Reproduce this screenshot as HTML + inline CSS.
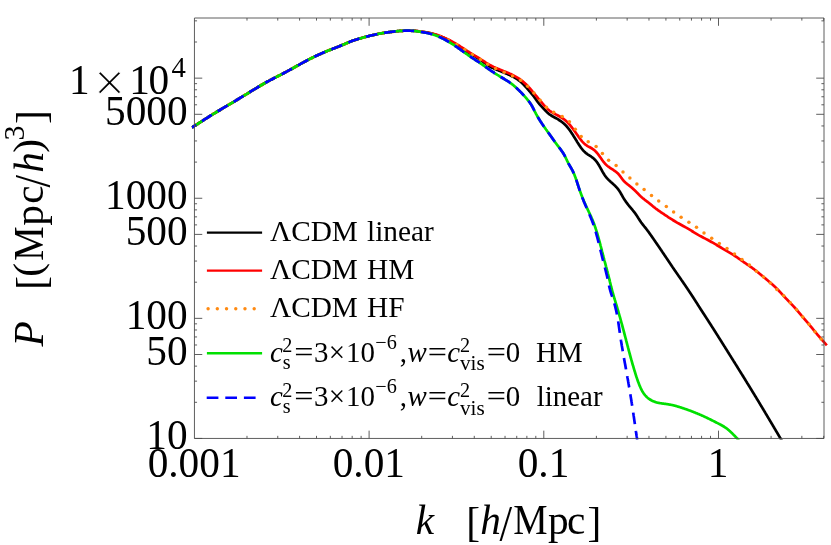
<!DOCTYPE html>
<html><head><meta charset="utf-8"><title>Power spectrum</title>
<style>
html,body{margin:0;padding:0;background:#fff;}
body{width:831px;height:545px;overflow:hidden;}
svg{display:block;font-family:"Liberation Serif",serif;will-change:transform;}
</style></head><body>
<svg width="831" height="545" viewBox="0 0 831 545">
<rect width="831" height="545" fill="#fff"/>
<defs><clipPath id="cp"><rect x="191.5" y="15" width="639.5" height="424.6"/></clipPath></defs>
<g clip-path="url(#cp)" fill="none" stroke-width="2.7" stroke-linejoin="round">
<path d="M192.00,127.50 L192.42,127.24 L192.85,126.97 L193.27,126.71 L193.70,126.44 L194.12,126.18 L194.54,125.91 L194.97,125.64 L195.39,125.37 L195.81,125.11 L196.23,124.84 L196.65,124.57 L197.08,124.30 L197.50,124.03 L197.92,123.76 L198.34,123.49 L198.76,123.22 L199.18,122.95 L199.60,122.68 L200.02,122.41 L200.44,122.14 L200.86,121.87 L201.28,121.60 L201.70,121.33 L202.12,121.05 L202.54,120.78 L202.96,120.51 L203.38,120.24 L203.80,119.97 L204.22,119.70 L204.64,119.43 L205.06,119.16 L205.49,118.89 L205.91,118.62 L206.33,118.35 L206.75,118.08 L207.17,117.81 L207.59,117.54 L208.01,117.28 L208.44,117.01 L208.86,116.74 L209.28,116.48 L209.71,116.21 L210.13,115.94 L210.55,115.68 L210.98,115.41 L211.40,115.15 L211.83,114.89 L212.25,114.63 L212.68,114.36 L213.11,114.10 L213.53,113.84 L213.96,113.58 L214.39,113.32 L214.81,113.06 L215.24,112.80 L215.67,112.54 L216.10,112.28 L216.52,112.03 L216.95,111.77 L217.38,111.51 L217.81,111.25 L218.24,111.00 L218.67,110.74 L219.10,110.49 L219.53,110.23 L219.96,109.97 L220.39,109.72 L220.82,109.46 L221.25,109.21 L221.68,108.95 L222.11,108.70 L222.54,108.44 L222.97,108.19 L223.40,107.93 L223.83,107.68 L224.26,107.43 L224.69,107.17 L225.12,106.92 L225.55,106.66 L225.98,106.41 L226.41,106.16 L226.85,105.90 L227.28,105.65 L227.71,105.39 L228.14,105.14 L228.57,104.88 L229.00,104.63 L229.43,104.38 L229.86,104.12 L230.29,103.87 L230.72,103.61 L231.15,103.36 L231.58,103.10 L232.01,102.84 L232.44,102.59 L232.87,102.33 L233.30,102.08 L233.73,101.82 L234.16,101.56 L234.58,101.31 L235.01,101.05 L235.44,100.79 L235.87,100.54 L236.30,100.28 L236.73,100.02 L237.16,99.76 L237.58,99.51 L238.01,99.25 L238.44,98.99 L238.87,98.73 L239.30,98.47 L239.73,98.21 L240.15,97.96 L240.58,97.70 L241.01,97.44 L241.44,97.18 L241.86,96.92 L242.29,96.66 L242.72,96.40 L243.15,96.14 L243.57,95.88 L244.00,95.62 L244.43,95.36 L244.85,95.10 L245.28,94.84 L245.71,94.58 L246.14,94.32 L246.56,94.06 L246.99,93.80 L247.42,93.54 L247.84,93.28 L248.27,93.02 L248.70,92.76 L249.12,92.49 L249.55,92.23 L249.97,91.97 L250.40,91.71 L250.83,91.45 L251.25,91.19 L251.68,90.93 L252.11,90.66 L252.53,90.40 L252.96,90.14 L253.39,89.88 L253.81,89.62 L254.24,89.36 L254.67,89.10 L255.09,88.84 L255.52,88.58 L255.95,88.32 L256.37,88.06 L256.80,87.80 L257.23,87.54 L257.66,87.28 L258.09,87.02 L258.52,86.77 L258.94,86.51 L259.37,86.25 L259.80,86.00 L260.23,85.74 L260.67,85.49 L261.10,85.24 L261.53,84.98 L261.96,84.73 L262.39,84.48 L262.83,84.23 L263.26,83.98 L263.69,83.74 L264.13,83.49 L264.56,83.24 L265.00,83.00 L265.44,82.76 L265.87,82.51 L266.31,82.27 L266.75,82.03 L267.19,81.79 L267.63,81.56 L268.07,81.32 L268.51,81.08 L268.95,80.85 L269.39,80.61 L269.83,80.38 L270.27,80.14 L270.72,79.91 L271.16,79.68 L271.60,79.45 L272.05,79.21 L272.49,78.98 L272.93,78.75 L273.38,78.52 L273.82,78.29 L274.27,78.06 L274.71,77.83 L275.15,77.61 L275.60,77.38 L276.04,77.15 L276.49,76.92 L276.93,76.69 L277.38,76.46 L277.82,76.24 L278.27,76.01 L278.71,75.78 L279.16,75.55 L279.60,75.32 L280.05,75.09 L280.49,74.86 L280.94,74.63 L281.38,74.40 L281.82,74.17 L282.27,73.94 L282.71,73.71 L283.15,73.48 L283.60,73.25 L284.04,73.01 L284.48,72.78 L284.92,72.55 L285.37,72.31 L285.81,72.08 L286.25,71.84 L286.69,71.60 L287.13,71.37 L287.57,71.13 L288.01,70.89 L288.44,70.65 L288.88,70.41 L289.32,70.17 L289.76,69.93 L290.20,69.69 L290.64,69.45 L291.07,69.20 L291.51,68.96 L291.95,68.72 L292.39,68.48 L292.82,68.23 L293.26,67.99 L293.70,67.75 L294.13,67.50 L294.57,67.26 L295.01,67.02 L295.44,66.77 L295.88,66.53 L296.32,66.29 L296.75,66.04 L297.19,65.80 L297.63,65.56 L298.06,65.31 L298.50,65.07 L298.94,64.83 L299.37,64.58 L299.81,64.34 L300.25,64.10 L300.69,63.86 L301.13,63.62 L301.56,63.38 L302.00,63.14 L302.44,62.90 L302.88,62.66 L303.32,62.42 L303.76,62.18 L304.20,61.94 L304.64,61.71 L305.08,61.47 L305.52,61.23 L305.96,61.00 L306.41,60.77 L306.85,60.53 L307.29,60.30 L307.73,60.07 L308.18,59.84 L308.62,59.61 L309.07,59.38 L309.51,59.15 L309.96,58.92 L310.40,58.69 L310.85,58.47 L311.30,58.24 L311.74,58.02 L312.19,57.79 L312.64,57.57 L313.09,57.35 L313.54,57.13 L313.99,56.91 L314.44,56.69 L314.89,56.47 L315.34,56.26 L315.79,56.04 L316.24,55.83 L316.69,55.61 L317.15,55.40 L317.60,55.19 L318.05,54.98 L318.51,54.77 L318.96,54.56 L319.42,54.35 L319.87,54.14 L320.33,53.94 L320.78,53.73 L321.24,53.53 L321.70,53.33 L322.16,53.13 L322.61,52.93 L323.07,52.73 L323.53,52.53 L323.99,52.33 L324.45,52.14 L324.91,51.95 L325.37,51.75 L325.84,51.56 L326.30,51.37 L326.76,51.18 L327.22,50.99 L327.69,50.81 L328.15,50.62 L328.62,50.43 L329.08,50.25 L329.55,50.07 L330.01,49.88 L330.48,49.70 L330.94,49.52 L331.41,49.34 L331.87,49.16 L332.34,48.97 L332.81,48.79 L333.27,48.61 L333.74,48.43 L334.21,48.25 L334.67,48.07 L335.14,47.89 L335.60,47.71 L336.07,47.53 L336.54,47.35 L337.00,47.17 L337.47,46.98 L337.93,46.80 L338.40,46.62 L338.86,46.43 L339.33,46.25 L339.79,46.06 L340.26,45.88 L340.72,45.69 L341.18,45.50 L341.65,45.31 L342.11,45.12 L342.57,44.93 L343.03,44.74 L343.49,44.55 L343.95,44.35 L344.41,44.15 L344.87,43.96 L345.33,43.76 L345.79,43.55 L346.25,43.35 L346.70,43.15 L347.16,42.95 L347.62,42.75 L348.08,42.55 L348.54,42.35 L349.00,42.15 L349.46,41.96 L349.92,41.77 L350.39,41.59 L350.85,41.40 L351.32,41.23 L351.79,41.05 L352.26,40.88 L352.73,40.71 L353.20,40.55 L353.67,40.39 L354.15,40.23 L354.62,40.07 L355.10,39.92 L355.57,39.77 L356.05,39.62 L356.53,39.47 L357.01,39.33 L357.49,39.19 L357.97,39.04 L358.45,38.90 L358.93,38.76 L359.41,38.62 L359.89,38.49 L360.38,38.35 L360.86,38.21 L361.34,38.08 L361.82,37.94 L362.30,37.81 L362.78,37.68 L363.27,37.54 L363.75,37.41 L364.23,37.28 L364.71,37.15 L365.20,37.02 L365.68,36.89 L366.16,36.76 L366.65,36.63 L367.13,36.51 L367.61,36.38 L368.10,36.26 L368.58,36.13 L369.07,36.01 L369.55,35.89 L370.04,35.77 L370.52,35.65 L371.01,35.53 L371.49,35.41 L371.98,35.29 L372.47,35.18 L372.95,35.06 L373.44,34.95 L373.93,34.84 L374.41,34.73 L374.90,34.62 L375.39,34.51 L375.88,34.40 L376.37,34.30 L376.86,34.20 L377.35,34.09 L377.84,33.99 L378.33,33.90 L378.82,33.80 L379.31,33.70 L379.80,33.61 L380.29,33.52 L380.78,33.43 L381.28,33.34 L381.77,33.26 L382.26,33.17 L382.75,33.09 L383.25,33.01 L383.74,32.93 L384.23,32.85 L384.73,32.77 L385.22,32.70 L385.72,32.62 L386.21,32.55 L386.71,32.47 L387.20,32.40 L387.70,32.33 L388.19,32.26 L388.69,32.19 L389.18,32.13 L389.68,32.06 L390.17,31.99 L390.67,31.93 L391.17,31.86 L391.66,31.80 L392.16,31.73 L392.66,31.67 L393.15,31.61 L393.65,31.55 L394.15,31.49 L394.64,31.43 L395.14,31.38 L395.64,31.32 L396.13,31.27 L396.63,31.22 L397.13,31.17 L397.63,31.12 L398.12,31.08 L398.62,31.03 L399.12,31.00 L399.62,30.96 L400.12,30.92 L400.62,30.89 L401.12,30.86 L401.61,30.84 L402.11,30.82 L402.61,30.80 L403.11,30.78 L403.61,30.76 L404.11,30.75 L404.61,30.74 L405.11,30.73 L405.61,30.72 L406.11,30.71 L406.61,30.71 L407.11,30.70 L407.61,30.70 L408.11,30.70 L408.61,30.70 L409.12,30.70 L409.62,30.70 L410.12,30.71 L410.62,30.71 L411.12,30.72 L411.62,30.73 L412.12,30.74 L412.62,30.76 L413.12,30.78 L413.62,30.80 L414.12,30.83 L414.61,30.86 L415.11,30.90 L415.61,30.94 L416.11,30.99 L416.60,31.04 L417.10,31.10 L417.60,31.16 L418.09,31.23 L418.59,31.30 L419.08,31.37 L419.58,31.44 L420.07,31.51 L420.57,31.58 L421.06,31.66 L421.56,31.73 L422.05,31.80 L422.55,31.88 L423.04,31.95 L423.54,32.03 L424.03,32.11 L424.52,32.19 L425.02,32.27 L425.51,32.36 L426.00,32.44 L426.49,32.53 L426.99,32.62 L427.48,32.71 L427.97,32.81 L428.46,32.91 L428.95,33.01 L429.44,33.12 L429.93,33.23 L430.41,33.34 L430.90,33.45 L431.39,33.57 L431.87,33.69 L432.36,33.82 L432.84,33.94 L433.33,34.07 L433.81,34.21 L434.29,34.35 L434.77,34.49 L435.25,34.63 L435.72,34.78 L436.20,34.93 L436.68,35.09 L437.15,35.25 L437.62,35.42 L438.09,35.58 L438.56,35.75 L439.03,35.93 L439.50,36.11 L439.97,36.29 L440.43,36.47 L440.90,36.66 L441.36,36.84 L441.82,37.04 L442.28,37.23 L442.74,37.43 L443.20,37.63 L443.66,37.83 L444.12,38.03 L444.57,38.24 L445.03,38.45 L445.48,38.66 L445.93,38.87 L446.38,39.09 L446.83,39.31 L447.28,39.53 L447.73,39.75 L448.18,39.98 L448.63,40.21 L449.07,40.44 L449.51,40.67 L449.96,40.90 L450.40,41.14 L450.84,41.38 L451.28,41.62 L451.71,41.87 L452.15,42.11 L452.59,42.36 L453.02,42.61 L453.45,42.86 L453.88,43.11 L454.31,43.37 L454.74,43.63 L455.17,43.89 L455.60,44.15 L456.02,44.41 L456.45,44.67 L456.87,44.94 L457.29,45.21 L457.72,45.48 L458.14,45.74 L458.56,46.02 L458.98,46.29 L459.40,46.56 L459.82,46.83 L460.23,47.11 L460.65,47.38 L461.07,47.66 L461.49,47.93 L461.90,48.21 L462.32,48.48 L462.74,48.76 L463.16,49.04 L463.57,49.31 L463.99,49.59 L464.41,49.86 L464.83,50.14 L465.24,50.41 L465.66,50.68 L466.08,50.96 L466.50,51.23 L466.92,51.50 L467.34,51.77 L467.76,52.04 L468.19,52.30 L468.61,52.57 L469.03,52.83 L469.46,53.10 L469.88,53.36 L470.31,53.62 L470.74,53.88 L471.17,54.13 L471.60,54.39 L472.03,54.65 L472.46,54.90 L472.89,55.16 L473.32,55.42 L473.74,55.67 L474.17,55.93 L474.60,56.18 L475.03,56.44 L475.46,56.70 L475.89,56.96 L476.31,57.22 L476.74,57.48 L477.16,57.75 L477.59,58.01 L478.01,58.28 L478.43,58.55 L478.85,58.83 L479.27,59.10 L479.68,59.38 L480.09,59.66 L480.51,59.95 L480.92,60.24 L481.32,60.53 L481.73,60.82 L482.14,61.12 L482.54,61.41 L482.95,61.71 L483.35,62.01 L483.75,62.30 L484.16,62.60 L484.56,62.90 L484.97,63.19 L485.37,63.49 L485.78,63.78 L486.19,64.07 L486.60,64.35 L487.01,64.64 L487.42,64.92 L487.83,65.20 L488.25,65.47 L488.67,65.74 L489.09,66.00 L489.52,66.26 L489.95,66.51 L490.38,66.76 L490.82,67.00 L491.26,67.24 L491.70,67.47 L492.15,67.69 L492.59,67.91 L493.04,68.13 L493.50,68.34 L493.95,68.54 L494.41,68.75 L494.87,68.95 L495.33,69.14 L495.79,69.34 L496.25,69.53 L496.72,69.72 L497.18,69.91 L497.65,70.10 L498.12,70.28 L498.58,70.47 L499.05,70.65 L499.52,70.83 L499.98,71.02 L500.45,71.20 L500.92,71.38 L501.38,71.57 L501.85,71.75 L502.31,71.94 L502.77,72.12 L503.24,72.31 L503.70,72.50 L504.16,72.69 L504.62,72.88 L505.09,73.07 L505.55,73.27 L506.01,73.46 L506.46,73.66 L506.92,73.86 L507.38,74.06 L507.84,74.26 L508.29,74.47 L508.75,74.67 L509.20,74.88 L509.66,75.10 L510.11,75.31 L510.56,75.53 L511.01,75.75 L511.47,75.97 L511.91,76.20 L512.36,76.42 L512.81,76.66 L513.25,76.89 L513.69,77.13 L514.13,77.37 L514.57,77.62 L515.01,77.87 L515.44,78.13 L515.87,78.39 L516.30,78.65 L516.72,78.92 L517.14,79.19 L517.56,79.47 L517.97,79.75 L518.38,80.04 L518.78,80.33 L519.18,80.63 L519.58,80.94 L519.97,81.25 L520.35,81.56 L520.74,81.88 L521.11,82.21 L521.48,82.54 L521.85,82.88 L522.21,83.22 L522.57,83.57 L522.93,83.92 L523.28,84.28 L523.63,84.63 L523.98,85.00 L524.32,85.36 L524.66,85.73 L525.00,86.10 L525.34,86.47 L525.67,86.84 L526.01,87.22 L526.34,87.59 L526.67,87.97 L527.00,88.35 L527.33,88.72 L527.66,89.10 L527.99,89.48 L528.32,89.85 L528.65,90.23 L528.98,90.61 L529.31,90.99 L529.64,91.37 L529.96,91.75 L530.29,92.13 L530.61,92.51 L530.94,92.89 L531.26,93.27 L531.58,93.66 L531.89,94.04 L532.21,94.43 L532.52,94.82 L532.83,95.21 L533.14,95.60 L533.45,96.00 L533.75,96.39 L534.05,96.79 L534.35,97.19 L534.64,97.60 L534.94,98.01 L535.23,98.41 L535.51,98.82 L535.80,99.24 L536.09,99.65 L536.37,100.06 L536.66,100.47 L536.95,100.88 L537.24,101.29 L537.53,101.69 L537.83,102.09 L538.13,102.49 L538.43,102.89 L538.74,103.28 L539.05,103.67 L539.37,104.05 L539.70,104.43 L540.03,104.80 L540.37,105.17 L540.71,105.54 L541.05,105.90 L541.40,106.26 L541.74,106.63 L542.09,106.99 L542.43,107.36 L542.77,107.73 L543.11,108.10 L543.45,108.48 L543.78,108.85 L544.12,109.22 L544.46,109.59 L544.80,109.96 L545.15,110.33 L545.49,110.70 L545.84,111.06 L546.19,111.42 L546.54,111.77 L546.90,112.12 L547.26,112.47 L547.62,112.80 L548.00,113.13 L548.37,113.46 L548.76,113.77 L549.14,114.08 L549.54,114.38 L549.94,114.67 L550.35,114.95 L550.77,115.22 L551.19,115.49 L551.61,115.75 L552.04,116.01 L552.47,116.26 L552.90,116.51 L553.34,116.75 L553.78,117.00 L554.22,117.24 L554.66,117.48 L555.11,117.72 L555.55,117.96 L555.99,118.20 L556.43,118.45 L556.87,118.70 L557.31,118.95 L557.74,119.20 L558.17,119.46 L558.60,119.72 L559.03,119.99 L559.45,120.26 L559.87,120.53 L560.29,120.81 L560.70,121.10 L561.11,121.39 L561.51,121.68 L561.91,121.98 L562.31,122.28 L562.70,122.59 L563.08,122.91 L563.47,123.23 L563.84,123.56 L564.21,123.89 L564.58,124.23 L564.94,124.58 L565.29,124.93 L565.64,125.29 L565.99,125.65 L566.33,126.02 L566.66,126.39 L566.99,126.76 L567.32,127.14 L567.64,127.53 L567.96,127.92 L568.27,128.31 L568.58,128.71 L568.89,129.10 L569.19,129.51 L569.49,129.91 L569.78,130.32 L570.08,130.73 L570.37,131.14 L570.65,131.55 L570.94,131.96 L571.22,132.38 L571.50,132.80 L571.77,133.21 L572.05,133.63 L572.32,134.05 L572.59,134.47 L572.86,134.89 L573.13,135.31 L573.39,135.74 L573.66,136.16 L573.92,136.58 L574.18,137.01 L574.44,137.43 L574.70,137.85 L574.97,138.28 L575.23,138.70 L575.49,139.13 L575.75,139.56 L576.01,139.98 L576.27,140.41 L576.53,140.83 L576.79,141.26 L577.05,141.69 L577.32,142.11 L577.58,142.54 L577.85,142.96 L578.12,143.39 L578.39,143.81 L578.66,144.24 L578.93,144.66 L579.21,145.08 L579.49,145.51 L579.77,145.93 L580.05,146.34 L580.34,146.76 L580.63,147.17 L580.93,147.58 L581.22,147.99 L581.53,148.39 L581.84,148.79 L582.15,149.19 L582.47,149.57 L582.79,149.96 L583.12,150.33 L583.46,150.71 L583.80,151.07 L584.15,151.43 L584.50,151.78 L584.86,152.12 L585.23,152.45 L585.61,152.78 L585.99,153.10 L586.39,153.40 L586.79,153.70 L587.19,153.99 L587.60,154.28 L588.02,154.56 L588.44,154.84 L588.86,155.11 L589.28,155.38 L589.71,155.65 L590.13,155.93 L590.55,156.20 L590.97,156.48 L591.38,156.76 L591.79,157.04 L592.20,157.33 L592.59,157.63 L592.98,157.94 L593.37,158.26 L593.74,158.58 L594.10,158.92 L594.46,159.26 L594.80,159.62 L595.14,159.98 L595.47,160.35 L595.80,160.73 L596.12,161.11 L596.43,161.51 L596.73,161.90 L597.03,162.31 L597.32,162.72 L597.61,163.14 L597.89,163.56 L598.16,163.98 L598.43,164.41 L598.70,164.84 L598.97,165.28 L599.22,165.71 L599.48,166.15 L599.74,166.59 L599.99,167.04 L600.23,167.48 L600.48,167.93 L600.73,168.37 L600.97,168.82 L601.21,169.26 L601.45,169.70 L601.70,170.15 L601.94,170.59 L602.18,171.03 L602.43,171.47 L602.67,171.91 L602.92,172.34 L603.18,172.77 L603.43,173.20 L603.69,173.63 L603.95,174.05 L604.22,174.47 L604.49,174.89 L604.77,175.30 L605.05,175.70 L605.34,176.11 L605.63,176.50 L605.94,176.90 L606.25,177.28 L606.56,177.66 L606.89,178.04 L607.22,178.41 L607.56,178.77 L607.90,179.14 L608.25,179.49 L608.60,179.85 L608.96,180.20 L609.32,180.55 L609.68,180.89 L610.05,181.23 L610.42,181.58 L610.79,181.92 L611.17,182.25 L611.54,182.59 L611.92,182.93 L612.30,183.26 L612.67,183.60 L613.05,183.94 L613.42,184.28 L613.79,184.62 L614.16,184.96 L614.53,185.30 L614.89,185.65 L615.25,185.99 L615.61,186.35 L615.96,186.70 L616.30,187.06 L616.64,187.43 L616.97,187.80 L617.30,188.17 L617.62,188.55 L617.93,188.94 L618.23,189.33 L618.53,189.73 L618.81,190.14 L619.09,190.55 L619.37,190.96 L619.64,191.38 L619.90,191.80 L620.16,192.23 L620.42,192.66 L620.67,193.09 L620.92,193.53 L621.17,193.96 L621.42,194.40 L621.66,194.84 L621.91,195.28 L622.15,195.72 L622.40,196.16 L622.64,196.59 L622.89,197.03 L623.14,197.47 L623.40,197.90 L623.66,198.33 L623.92,198.76 L624.19,199.18 L624.46,199.60 L624.73,200.02 L625.01,200.44 L625.29,200.85 L625.58,201.26 L625.86,201.67 L626.16,202.08 L626.45,202.48 L626.75,202.88 L627.05,203.28 L627.35,203.68 L627.66,204.08 L627.96,204.47 L628.27,204.86 L628.59,205.26 L628.90,205.65 L629.22,206.03 L629.53,206.42 L629.85,206.81 L630.17,207.19 L630.50,207.57 L630.82,207.96 L631.14,208.34 L631.46,208.72 L631.79,209.11 L632.11,209.49 L632.43,209.87 L632.75,210.26 L633.06,210.65 L633.38,211.03 L633.69,211.42 L634.00,211.82 L634.31,212.21 L634.62,212.60 L634.92,213.00 L635.21,213.40 L635.51,213.81 L635.79,214.22 L636.08,214.63 L636.36,215.04 L636.64,215.46 L636.91,215.87 L637.18,216.29 L637.45,216.71 L637.72,217.14 L637.99,217.56 L638.26,217.98 L638.52,218.41 L638.79,218.83 L639.06,219.25 L639.33,219.67 L639.60,220.09 L639.87,220.51 L640.15,220.93 L640.43,221.35 L640.71,221.76 L640.99,222.17 L641.28,222.58 L641.58,222.98 L641.88,223.38 L642.18,223.78 L642.48,224.17 L642.79,224.57 L643.10,224.96 L643.42,225.35 L643.73,225.74 L644.05,226.13 L644.36,226.52 L644.68,226.90 L644.99,227.29 L645.31,227.68 L645.62,228.07 L645.93,228.46 L646.24,228.85 L646.55,229.25 L646.85,229.65 L647.16,230.04 L647.46,230.44 L647.75,230.85 L648.05,231.25 L648.35,231.65 L648.64,232.06 L648.93,232.46 L649.22,232.87 L649.51,233.28 L649.80,233.69 L650.09,234.10 L650.37,234.50 L650.66,234.91 L650.95,235.32 L651.23,235.73 L651.52,236.14 L651.81,236.56 L652.09,236.97 L652.38,237.38 L652.66,237.79 L652.95,238.20 L653.23,238.61 L653.52,239.02 L653.80,239.43 L654.09,239.84 L654.37,240.25 L654.66,240.66 L654.94,241.07 L655.23,241.49 L655.51,241.90 L655.79,242.31 L656.08,242.72 L656.36,243.13 L656.65,243.54 L656.93,243.96 L657.21,244.37 L657.49,244.78 L657.78,245.19 L658.06,245.60 L658.34,246.02 L658.62,246.43 L658.91,246.84 L659.19,247.26 L659.47,247.67 L659.75,248.08 L660.03,248.50 L660.31,248.91 L660.59,249.32 L660.87,249.74 L661.16,250.15 L661.44,250.56 L661.72,250.98 L662.00,251.39 L662.27,251.81 L662.55,252.22 L662.83,252.64 L663.11,253.05 L663.39,253.47 L663.67,253.88 L663.95,254.30 L664.23,254.71 L664.51,255.13 L664.78,255.54 L665.06,255.96 L665.34,256.37 L665.62,256.79 L665.90,257.20 L666.17,257.62 L666.45,258.04 L666.73,258.45 L667.01,258.87 L667.29,259.28 L667.57,259.70 L667.84,260.11 L668.12,260.53 L668.40,260.94 L668.68,261.36 L668.96,261.77 L669.24,262.19 L669.51,262.61 L669.79,263.02 L670.07,263.43 L670.35,263.85 L670.63,264.26 L670.91,264.68 L671.19,265.09 L671.47,265.51 L671.75,265.92 L672.03,266.33 L672.31,266.75 L672.60,267.16 L672.88,267.57 L673.16,267.99 L673.44,268.40 L673.72,268.81 L674.01,269.22 L674.29,269.64 L674.57,270.05 L674.86,270.46 L675.14,270.87 L675.43,271.28 L675.71,271.69 L675.99,272.11 L676.28,272.52 L676.56,272.93 L676.85,273.34 L677.13,273.75 L677.42,274.16 L677.70,274.57 L677.99,274.98 L678.27,275.39 L678.56,275.80 L678.84,276.22 L679.13,276.63 L679.41,277.04 L679.70,277.45 L679.98,277.86 L680.27,278.27 L680.55,278.68 L680.84,279.09 L681.12,279.50 L681.40,279.92 L681.69,280.33 L681.97,280.74 L682.26,281.15 L682.54,281.56 L682.82,281.97 L683.11,282.39 L683.39,282.80 L683.67,283.21 L683.96,283.62 L684.24,284.03 L684.52,284.45 L684.80,284.86 L685.09,285.27 L685.37,285.69 L685.65,286.10 L685.93,286.51 L686.21,286.93 L686.49,287.34 L686.77,287.75 L687.05,288.17 L687.33,288.58 L687.61,289.00 L687.89,289.41 L688.17,289.83 L688.45,290.24 L688.73,290.66 L689.01,291.07 L689.28,291.49 L689.56,291.90 L689.84,292.32 L690.11,292.74 L690.39,293.16 L690.66,293.57 L690.94,293.99 L691.21,294.41 L691.49,294.83 L691.76,295.25 L692.03,295.66 L692.31,296.08 L692.58,296.50 L692.85,296.92 L693.12,297.34 L693.39,297.76 L693.66,298.18 L693.93,298.60 L694.20,299.02 L694.47,299.44 L694.74,299.87 L695.01,300.29 L695.28,300.71 L695.55,301.13 L695.82,301.55 L696.09,301.97 L696.36,302.39 L696.63,302.82 L696.90,303.24 L697.16,303.66 L697.43,304.08 L697.70,304.50 L697.97,304.92 L698.24,305.35 L698.51,305.77 L698.78,306.19 L699.05,306.61 L699.32,307.03 L699.58,307.45 L699.85,307.87 L700.12,308.29 L700.39,308.71 L700.67,309.14 L700.94,309.56 L701.21,309.98 L701.48,310.40 L701.75,310.82 L702.02,311.24 L702.29,311.66 L702.56,312.08 L702.84,312.50 L703.11,312.92 L703.38,313.33 L703.65,313.75 L703.92,314.17 L704.20,314.59 L704.47,315.01 L704.74,315.43 L705.01,315.85 L705.28,316.27 L705.56,316.69 L705.83,317.11 L706.10,317.53 L706.37,317.95 L706.64,318.37 L706.92,318.79 L707.19,319.21 L707.46,319.63 L707.73,320.05 L708.00,320.47 L708.27,320.89 L708.54,321.31 L708.81,321.73 L709.09,322.15 L709.36,322.57 L709.63,322.99 L709.90,323.41 L710.17,323.83 L710.44,324.25 L710.71,324.67 L710.97,325.10 L711.24,325.52 L711.51,325.94 L711.78,326.36 L712.05,326.78 L712.32,327.20 L712.59,327.62 L712.86,328.05 L713.13,328.47 L713.39,328.89 L713.66,329.31 L713.93,329.73 L714.20,330.15 L714.47,330.58 L714.74,331.00 L715.00,331.42 L715.27,331.84 L715.54,332.27 L715.81,332.69 L716.07,333.11 L716.34,333.53 L716.61,333.96 L716.87,334.38 L717.14,334.80 L717.41,335.22 L717.68,335.65 L717.94,336.07 L718.21,336.49 L718.48,336.92 L718.74,337.34 L719.01,337.76 L719.28,338.19 L719.54,338.61 L719.81,339.03 L720.07,339.45 L720.34,339.88 L720.61,340.30 L720.87,340.72 L721.14,341.15 L721.40,341.57 L721.67,341.99 L721.94,342.42 L722.20,342.84 L722.47,343.27 L722.73,343.69 L723.00,344.11 L723.27,344.54 L723.53,344.96 L723.80,345.38 L724.06,345.81 L724.33,346.23 L724.59,346.65 L724.86,347.08 L725.13,347.50 L725.39,347.92 L725.66,348.35 L725.92,348.77 L726.19,349.20 L726.45,349.62 L726.72,350.04 L726.99,350.47 L727.25,350.89 L727.52,351.31 L727.78,351.74 L728.05,352.16 L728.31,352.58 L728.58,353.01 L728.84,353.43 L729.11,353.86 L729.37,354.28 L729.64,354.70 L729.90,355.13 L730.17,355.55 L730.44,355.98 L730.70,356.40 L730.97,356.82 L731.23,357.25 L731.50,357.67 L731.76,358.09 L732.03,358.52 L732.29,358.94 L732.56,359.37 L732.82,359.79 L733.09,360.21 L733.35,360.64 L733.62,361.06 L733.88,361.49 L734.15,361.91 L734.41,362.33 L734.68,362.76 L734.94,363.18 L735.21,363.61 L735.47,364.03 L735.73,364.46 L736.00,364.88 L736.26,365.30 L736.53,365.73 L736.79,366.15 L737.06,366.58 L737.32,367.00 L737.59,367.43 L737.85,367.85 L738.11,368.28 L738.38,368.70 L738.64,369.12 L738.91,369.55 L739.17,369.97 L739.43,370.40 L739.70,370.82 L739.96,371.25 L740.23,371.67 L740.49,372.10 L740.75,372.52 L741.02,372.95 L741.28,373.37 L741.54,373.80 L741.81,374.22 L742.07,374.65 L742.33,375.07 L742.60,375.50 L742.86,375.92 L743.12,376.35 L743.39,376.77 L743.65,377.20 L743.91,377.62 L744.18,378.05 L744.44,378.47 L744.70,378.90 L744.96,379.32 L745.23,379.75 L745.49,380.18 L745.75,380.60 L746.01,381.03 L746.28,381.45 L746.54,381.88 L746.80,382.30 L747.06,382.73 L747.33,383.15 L747.59,383.58 L747.85,384.01 L748.11,384.43 L748.37,384.86 L748.63,385.28 L748.90,385.71 L749.16,386.14 L749.42,386.56 L749.68,386.99 L749.94,387.42 L750.20,387.84 L750.46,388.27 L750.72,388.69 L750.99,389.12 L751.25,389.55 L751.51,389.97 L751.77,390.40 L752.03,390.83 L752.29,391.25 L752.55,391.68 L752.81,392.11 L753.07,392.54 L753.33,392.96 L753.59,393.39 L753.85,393.82 L754.11,394.24 L754.37,394.67 L754.63,395.10 L754.89,395.53 L755.15,395.95 L755.41,396.38 L755.67,396.81 L755.93,397.24 L756.19,397.66 L756.45,398.09 L756.70,398.52 L756.96,398.95 L757.22,399.37 L757.48,399.80 L757.74,400.23 L758.00,400.66 L758.26,401.08 L758.52,401.51 L758.77,401.94 L759.03,402.37 L759.29,402.80 L759.55,403.23 L759.81,403.65 L760.06,404.08 L760.32,404.51 L760.58,404.94 L760.84,405.37 L761.10,405.80 L761.35,406.22 L761.61,406.65 L761.87,407.08 L762.13,407.51 L762.38,407.94 L762.64,408.37 L762.90,408.80 L763.16,409.22 L763.41,409.65 L763.67,410.08 L763.93,410.51 L764.18,410.94 L764.44,411.37 L764.70,411.80 L764.95,412.23 L765.21,412.66 L765.47,413.09 L765.72,413.52 L765.98,413.94 L766.24,414.37 L766.49,414.80 L766.75,415.23 L767.00,415.66 L767.26,416.09 L767.52,416.52 L767.77,416.95 L768.03,417.38 L768.28,417.81 L768.54,418.24 L768.80,418.67 L769.05,419.10 L769.31,419.53 L769.56,419.96 L769.82,420.39 L770.07,420.82 L770.33,421.25 L770.58,421.68 L770.84,422.11 L771.10,422.54 L771.35,422.97 L771.61,423.40 L771.86,423.83 L772.12,424.26 L772.37,424.69 L772.63,425.12 L772.88,425.55 L773.14,425.98 L773.39,426.41 L773.65,426.84 L773.90,427.27 L774.15,427.70 L774.41,428.13 L774.66,428.56 L774.92,428.99 L775.17,429.42 L775.43,429.85 L775.68,430.28 L775.94,430.71 L776.19,431.14 L776.44,431.57 L776.70,432.00 L776.95,432.43 L777.21,432.86 L777.46,433.29 L777.72,433.73 L777.97,434.16 L778.22,434.59 L778.48,435.02 L778.73,435.45 L778.99,435.88 L779.24,436.31 L779.49,436.74 L779.75,437.17 L780.00,437.60 L780.25,438.03 L780.51,438.46 L780.76,438.89 L781.02,439.33 L781.27,439.76 L781.52,440.19 L781.78,440.62 L782.03,441.05 L782.28,441.48 L782.54,441.91 L782.79,442.34 L783.00,442.70" stroke="#000"/>
<path d="M192.00,127.50 L192.42,127.24 L192.85,126.97 L193.27,126.71 L193.70,126.44 L194.12,126.18 L194.54,125.91 L194.97,125.64 L195.39,125.37 L195.81,125.11 L196.23,124.84 L196.65,124.57 L197.08,124.30 L197.50,124.03 L197.92,123.76 L198.34,123.49 L198.76,123.22 L199.18,122.95 L199.60,122.68 L200.02,122.41 L200.44,122.14 L200.86,121.87 L201.28,121.60 L201.70,121.33 L202.12,121.05 L202.54,120.78 L202.96,120.51 L203.38,120.24 L203.80,119.97 L204.22,119.70 L204.64,119.43 L205.06,119.16 L205.49,118.89 L205.91,118.62 L206.33,118.35 L206.75,118.08 L207.17,117.81 L207.59,117.54 L208.01,117.28 L208.44,117.01 L208.86,116.74 L209.28,116.48 L209.71,116.21 L210.13,115.94 L210.55,115.68 L210.98,115.41 L211.40,115.15 L211.83,114.89 L212.25,114.63 L212.68,114.36 L213.11,114.10 L213.53,113.84 L213.96,113.58 L214.39,113.32 L214.81,113.06 L215.24,112.80 L215.67,112.54 L216.10,112.28 L216.52,112.03 L216.95,111.77 L217.38,111.51 L217.81,111.25 L218.24,111.00 L218.67,110.74 L219.10,110.49 L219.53,110.23 L219.96,109.97 L220.39,109.72 L220.82,109.46 L221.25,109.21 L221.68,108.95 L222.11,108.70 L222.54,108.44 L222.97,108.19 L223.40,107.93 L223.83,107.68 L224.26,107.43 L224.69,107.17 L225.12,106.92 L225.55,106.66 L225.98,106.41 L226.41,106.16 L226.85,105.90 L227.28,105.65 L227.71,105.39 L228.14,105.14 L228.57,104.88 L229.00,104.63 L229.43,104.38 L229.86,104.12 L230.29,103.87 L230.72,103.61 L231.15,103.36 L231.58,103.10 L232.01,102.84 L232.44,102.59 L232.87,102.33 L233.30,102.08 L233.73,101.82 L234.16,101.56 L234.58,101.31 L235.01,101.05 L235.44,100.79 L235.87,100.54 L236.30,100.28 L236.73,100.02 L237.16,99.76 L237.58,99.51 L238.01,99.25 L238.44,98.99 L238.87,98.73 L239.30,98.47 L239.73,98.21 L240.15,97.96 L240.58,97.70 L241.01,97.44 L241.44,97.18 L241.86,96.92 L242.29,96.66 L242.72,96.40 L243.15,96.14 L243.57,95.88 L244.00,95.62 L244.43,95.36 L244.85,95.10 L245.28,94.84 L245.71,94.58 L246.14,94.32 L246.56,94.06 L246.99,93.80 L247.42,93.54 L247.84,93.28 L248.27,93.02 L248.70,92.76 L249.12,92.49 L249.55,92.23 L249.97,91.97 L250.40,91.71 L250.83,91.45 L251.25,91.19 L251.68,90.93 L252.11,90.66 L252.53,90.40 L252.96,90.14 L253.39,89.88 L253.81,89.62 L254.24,89.36 L254.67,89.10 L255.09,88.84 L255.52,88.58 L255.95,88.32 L256.37,88.06 L256.80,87.80 L257.23,87.54 L257.66,87.28 L258.09,87.02 L258.52,86.77 L258.94,86.51 L259.37,86.25 L259.80,86.00 L260.23,85.74 L260.67,85.49 L261.10,85.24 L261.53,84.98 L261.96,84.73 L262.39,84.48 L262.83,84.23 L263.26,83.98 L263.69,83.74 L264.13,83.49 L264.56,83.24 L265.00,83.00 L265.44,82.76 L265.87,82.51 L266.31,82.27 L266.75,82.03 L267.19,81.79 L267.63,81.56 L268.07,81.32 L268.51,81.08 L268.95,80.85 L269.39,80.61 L269.83,80.38 L270.27,80.14 L270.72,79.91 L271.16,79.68 L271.60,79.45 L272.05,79.21 L272.49,78.98 L272.93,78.75 L273.38,78.52 L273.82,78.29 L274.27,78.06 L274.71,77.83 L275.15,77.61 L275.60,77.38 L276.04,77.15 L276.49,76.92 L276.93,76.69 L277.38,76.46 L277.82,76.24 L278.27,76.01 L278.71,75.78 L279.16,75.55 L279.60,75.32 L280.05,75.09 L280.49,74.86 L280.94,74.63 L281.38,74.40 L281.82,74.17 L282.27,73.94 L282.71,73.71 L283.15,73.48 L283.60,73.25 L284.04,73.01 L284.48,72.78 L284.92,72.55 L285.37,72.31 L285.81,72.08 L286.25,71.84 L286.69,71.60 L287.13,71.37 L287.57,71.13 L288.01,70.89 L288.44,70.65 L288.88,70.41 L289.32,70.17 L289.76,69.93 L290.20,69.69 L290.64,69.45 L291.07,69.20 L291.51,68.96 L291.95,68.72 L292.39,68.48 L292.82,68.23 L293.26,67.99 L293.70,67.75 L294.13,67.50 L294.57,67.26 L295.01,67.02 L295.44,66.77 L295.88,66.53 L296.32,66.29 L296.75,66.04 L297.19,65.80 L297.63,65.56 L298.06,65.31 L298.50,65.07 L298.94,64.83 L299.37,64.58 L299.81,64.34 L300.25,64.10 L300.69,63.86 L301.13,63.62 L301.56,63.38 L302.00,63.14 L302.44,62.90 L302.88,62.66 L303.32,62.42 L303.76,62.18 L304.20,61.94 L304.64,61.71 L305.08,61.47 L305.52,61.23 L305.96,61.00 L306.41,60.77 L306.85,60.53 L307.29,60.30 L307.73,60.07 L308.18,59.84 L308.62,59.61 L309.07,59.38 L309.51,59.15 L309.96,58.92 L310.40,58.69 L310.85,58.47 L311.30,58.24 L311.74,58.02 L312.19,57.79 L312.64,57.57 L313.09,57.35 L313.54,57.13 L313.99,56.91 L314.44,56.69 L314.89,56.47 L315.34,56.26 L315.79,56.04 L316.24,55.83 L316.69,55.61 L317.15,55.40 L317.60,55.19 L318.05,54.98 L318.51,54.77 L318.96,54.56 L319.42,54.35 L319.87,54.14 L320.33,53.94 L320.78,53.73 L321.24,53.53 L321.70,53.33 L322.16,53.13 L322.61,52.93 L323.07,52.73 L323.53,52.53 L323.99,52.33 L324.45,52.14 L324.91,51.95 L325.37,51.75 L325.84,51.56 L326.30,51.37 L326.76,51.18 L327.22,50.99 L327.69,50.81 L328.15,50.62 L328.62,50.43 L329.08,50.25 L329.55,50.07 L330.01,49.88 L330.48,49.70 L330.94,49.52 L331.41,49.34 L331.87,49.16 L332.34,48.97 L332.81,48.79 L333.27,48.61 L333.74,48.43 L334.21,48.25 L334.67,48.07 L335.14,47.89 L335.60,47.71 L336.07,47.53 L336.54,47.35 L337.00,47.17 L337.47,46.98 L337.93,46.80 L338.40,46.62 L338.86,46.43 L339.33,46.25 L339.79,46.06 L340.26,45.88 L340.72,45.69 L341.18,45.50 L341.65,45.31 L342.11,45.12 L342.57,44.93 L343.03,44.74 L343.49,44.55 L343.95,44.35 L344.41,44.15 L344.87,43.96 L345.33,43.76 L345.79,43.55 L346.25,43.35 L346.70,43.15 L347.16,42.95 L347.62,42.75 L348.08,42.55 L348.54,42.35 L349.00,42.15 L349.46,41.96 L349.92,41.77 L350.39,41.59 L350.85,41.40 L351.32,41.23 L351.79,41.05 L352.26,40.88 L352.73,40.71 L353.20,40.55 L353.67,40.39 L354.15,40.23 L354.62,40.07 L355.10,39.92 L355.57,39.77 L356.05,39.62 L356.53,39.47 L357.01,39.33 L357.49,39.19 L357.97,39.04 L358.45,38.90 L358.93,38.76 L359.41,38.62 L359.89,38.49 L360.38,38.35 L360.86,38.21 L361.34,38.08 L361.82,37.94 L362.30,37.81 L362.78,37.68 L363.27,37.54 L363.75,37.41 L364.23,37.28 L364.71,37.15 L365.20,37.02 L365.68,36.89 L366.16,36.76 L366.65,36.63 L367.13,36.51 L367.61,36.38 L368.10,36.26 L368.58,36.13 L369.07,36.01 L369.55,35.89 L370.04,35.77 L370.52,35.65 L371.01,35.53 L371.49,35.41 L371.98,35.29 L372.47,35.18 L372.95,35.06 L373.44,34.95 L373.93,34.84 L374.41,34.73 L374.90,34.62 L375.39,34.51 L375.88,34.40 L376.37,34.30 L376.86,34.20 L377.35,34.09 L377.84,33.99 L378.33,33.90 L378.82,33.80 L379.31,33.70 L379.80,33.61 L380.29,33.52 L380.78,33.43 L381.28,33.34 L381.77,33.26 L382.26,33.17 L382.75,33.09 L383.25,33.01 L383.74,32.93 L384.23,32.85 L384.73,32.77 L385.22,32.70 L385.72,32.62 L386.21,32.55 L386.71,32.48 L387.20,32.40 L387.70,32.33 L388.19,32.26 L388.69,32.20 L389.18,32.13 L389.68,32.06 L390.17,31.99 L390.67,31.93 L391.17,31.86 L391.66,31.80 L392.16,31.73 L392.66,31.67 L393.15,31.61 L393.65,31.55 L394.15,31.49 L394.64,31.43 L395.14,31.37 L395.64,31.32 L396.13,31.27 L396.63,31.22 L397.13,31.17 L397.63,31.12 L398.12,31.08 L398.62,31.03 L399.12,30.99 L399.62,30.96 L400.12,30.92 L400.62,30.89 L401.12,30.87 L401.61,30.84 L402.11,30.82 L402.61,30.80 L403.11,30.78 L403.61,30.77 L404.11,30.75 L404.61,30.74 L405.11,30.73 L405.61,30.72 L406.11,30.72 L406.61,30.71 L407.11,30.71 L407.61,30.70 L408.11,30.70 L408.61,30.70 L409.12,30.70 L409.62,30.70 L410.12,30.70 L410.62,30.70 L411.12,30.71 L411.62,30.71 L412.12,30.72 L412.62,30.74 L413.12,30.75 L413.62,30.77 L414.12,30.79 L414.62,30.82 L415.11,30.85 L415.61,30.89 L416.11,30.94 L416.61,30.98 L417.10,31.04 L417.60,31.09 L418.10,31.15 L418.59,31.22 L419.09,31.28 L419.59,31.35 L420.08,31.41 L420.58,31.48 L421.07,31.54 L421.57,31.61 L422.06,31.68 L422.56,31.75 L423.06,31.82 L423.55,31.89 L424.04,31.96 L424.54,32.03 L425.03,32.11 L425.53,32.19 L426.02,32.26 L426.51,32.35 L427.01,32.43 L427.50,32.52 L427.99,32.61 L428.48,32.70 L428.98,32.80 L429.47,32.89 L429.96,33.00 L430.45,33.10 L430.94,33.21 L431.42,33.32 L431.91,33.44 L432.40,33.56 L432.88,33.68 L433.37,33.81 L433.85,33.94 L434.33,34.07 L434.81,34.21 L435.29,34.35 L435.77,34.50 L436.25,34.65 L436.72,34.81 L437.20,34.97 L437.67,35.13 L438.14,35.30 L438.61,35.47 L439.08,35.65 L439.54,35.82 L440.01,36.00 L440.48,36.19 L440.94,36.37 L441.41,36.56 L441.87,36.74 L442.33,36.93 L442.79,37.13 L443.26,37.32 L443.72,37.52 L444.18,37.72 L444.64,37.92 L445.09,38.12 L445.55,38.32 L446.01,38.53 L446.46,38.74 L446.92,38.95 L447.37,39.16 L447.82,39.38 L448.27,39.59 L448.72,39.81 L449.17,40.03 L449.62,40.26 L450.07,40.48 L450.51,40.71 L450.96,40.94 L451.40,41.17 L451.84,41.41 L452.28,41.65 L452.72,41.89 L453.16,42.13 L453.60,42.37 L454.03,42.62 L454.47,42.86 L454.90,43.12 L455.33,43.37 L455.76,43.62 L456.19,43.88 L456.62,44.14 L457.04,44.40 L457.47,44.66 L457.89,44.93 L458.32,45.19 L458.74,45.46 L459.16,45.73 L459.58,45.99 L460.00,46.27 L460.42,46.54 L460.84,46.81 L461.26,47.08 L461.68,47.35 L462.10,47.63 L462.52,47.90 L462.94,48.18 L463.35,48.45 L463.77,48.73 L464.19,49.00 L464.61,49.28 L465.03,49.55 L465.44,49.82 L465.86,50.10 L466.28,50.37 L466.70,50.64 L467.12,50.92 L467.54,51.19 L467.96,51.46 L468.39,51.72 L468.81,51.99 L469.23,52.26 L469.66,52.52 L470.08,52.78 L470.51,53.05 L470.93,53.31 L471.36,53.57 L471.79,53.83 L472.22,54.08 L472.64,54.34 L473.07,54.60 L473.50,54.85 L473.93,55.11 L474.36,55.37 L474.79,55.62 L475.22,55.88 L475.65,56.14 L476.08,56.39 L476.51,56.65 L476.93,56.91 L477.36,57.17 L477.79,57.43 L478.22,57.69 L478.64,57.95 L479.07,58.22 L479.49,58.48 L479.91,58.75 L480.34,59.01 L480.76,59.28 L481.18,59.55 L481.60,59.83 L482.02,60.10 L482.44,60.37 L482.86,60.64 L483.28,60.92 L483.70,61.19 L484.12,61.46 L484.54,61.73 L484.96,62.00 L485.38,62.27 L485.80,62.54 L486.23,62.81 L486.65,63.07 L487.08,63.34 L487.50,63.60 L487.93,63.86 L488.36,64.11 L488.79,64.36 L489.22,64.61 L489.66,64.86 L490.10,65.10 L490.54,65.34 L490.98,65.57 L491.42,65.80 L491.87,66.02 L492.31,66.25 L492.76,66.47 L493.21,66.68 L493.66,66.90 L494.12,67.11 L494.57,67.32 L495.03,67.52 L495.49,67.73 L495.94,67.93 L496.40,68.13 L496.86,68.32 L497.33,68.52 L497.79,68.71 L498.25,68.90 L498.71,69.09 L499.18,69.28 L499.64,69.47 L500.10,69.66 L500.57,69.85 L501.03,70.04 L501.50,70.22 L501.96,70.41 L502.43,70.59 L502.89,70.78 L503.35,70.97 L503.82,71.15 L504.28,71.34 L504.74,71.53 L505.21,71.72 L505.67,71.91 L506.13,72.10 L506.59,72.29 L507.05,72.48 L507.52,72.68 L507.98,72.87 L508.43,73.07 L508.89,73.27 L509.35,73.47 L509.81,73.68 L510.26,73.88 L510.72,74.09 L511.17,74.30 L511.62,74.52 L512.08,74.74 L512.53,74.96 L512.97,75.18 L513.42,75.41 L513.87,75.64 L514.31,75.87 L514.75,76.10 L515.19,76.34 L515.63,76.59 L516.07,76.83 L516.50,77.08 L516.93,77.34 L517.36,77.60 L517.79,77.86 L518.21,78.12 L518.63,78.40 L519.05,78.67 L519.47,78.95 L519.88,79.23 L520.29,79.52 L520.69,79.81 L521.10,80.11 L521.50,80.41 L521.89,80.72 L522.28,81.03 L522.67,81.34 L523.06,81.66 L523.44,81.98 L523.83,82.31 L524.20,82.64 L524.58,82.97 L524.95,83.31 L525.31,83.65 L525.68,83.99 L526.04,84.34 L526.40,84.69 L526.75,85.04 L527.10,85.40 L527.45,85.76 L527.80,86.12 L528.14,86.48 L528.48,86.85 L528.82,87.22 L529.15,87.59 L529.49,87.96 L529.82,88.34 L530.14,88.71 L530.47,89.09 L530.80,89.47 L531.12,89.85 L531.44,90.23 L531.77,90.62 L532.09,91.00 L532.41,91.38 L532.73,91.77 L533.05,92.15 L533.37,92.54 L533.69,92.92 L534.01,93.31 L534.33,93.69 L534.65,94.08 L534.97,94.46 L535.29,94.84 L535.61,95.23 L535.94,95.61 L536.26,95.99 L536.58,96.37 L536.91,96.75 L537.23,97.13 L537.55,97.51 L537.88,97.89 L538.20,98.28 L538.53,98.66 L538.85,99.04 L539.17,99.42 L539.49,99.80 L539.82,100.18 L540.14,100.57 L540.46,100.95 L540.78,101.33 L541.10,101.72 L541.42,102.10 L541.73,102.49 L542.05,102.87 L542.37,103.25 L542.69,103.64 L543.01,104.02 L543.34,104.40 L543.66,104.79 L543.99,105.17 L544.31,105.55 L544.64,105.93 L544.98,106.30 L545.31,106.68 L545.65,107.05 L545.99,107.42 L546.34,107.78 L546.69,108.14 L547.04,108.50 L547.40,108.85 L547.76,109.19 L548.13,109.52 L548.51,109.85 L548.89,110.17 L549.28,110.48 L549.67,110.79 L550.07,111.08 L550.48,111.36 L550.90,111.64 L551.31,111.91 L551.74,112.18 L552.16,112.44 L552.59,112.69 L553.03,112.94 L553.47,113.18 L553.91,113.43 L554.35,113.66 L554.79,113.90 L555.24,114.14 L555.68,114.37 L556.13,114.60 L556.58,114.84 L557.02,115.07 L557.47,115.30 L557.91,115.54 L558.36,115.78 L558.80,116.02 L559.24,116.26 L559.67,116.51 L560.11,116.76 L560.54,117.01 L560.97,117.26 L561.40,117.52 L561.82,117.79 L562.24,118.06 L562.65,118.34 L563.06,118.62 L563.47,118.91 L563.87,119.20 L564.27,119.51 L564.66,119.82 L565.05,120.13 L565.43,120.45 L565.80,120.78 L566.18,121.12 L566.54,121.46 L566.91,121.80 L567.26,122.15 L567.62,122.51 L567.97,122.87 L568.31,123.23 L568.66,123.60 L569.00,123.97 L569.33,124.35 L569.66,124.73 L569.99,125.11 L570.31,125.49 L570.63,125.88 L570.95,126.27 L571.27,126.66 L571.58,127.05 L571.89,127.44 L572.19,127.84 L572.50,128.23 L572.80,128.63 L573.10,129.03 L573.39,129.43 L573.69,129.83 L573.98,130.23 L574.28,130.64 L574.57,131.04 L574.86,131.45 L575.15,131.85 L575.43,132.26 L575.72,132.67 L576.01,133.08 L576.30,133.48 L576.58,133.89 L576.87,134.30 L577.16,134.71 L577.45,135.12 L577.74,135.54 L578.03,135.95 L578.32,136.36 L578.61,136.77 L578.90,137.18 L579.20,137.59 L579.49,138.01 L579.79,138.41 L580.09,138.82 L580.40,139.23 L580.70,139.63 L581.02,140.03 L581.33,140.42 L581.65,140.81 L581.97,141.20 L582.30,141.58 L582.64,141.95 L582.98,142.32 L583.33,142.68 L583.68,143.04 L584.04,143.38 L584.41,143.72 L584.78,144.04 L585.16,144.36 L585.55,144.67 L585.95,144.96 L586.36,145.25 L586.77,145.53 L587.20,145.79 L587.62,146.05 L588.06,146.30 L588.49,146.55 L588.93,146.80 L589.37,147.04 L589.81,147.28 L590.25,147.52 L590.69,147.77 L591.13,148.02 L591.56,148.27 L591.99,148.53 L592.41,148.79 L592.83,149.07 L593.23,149.35 L593.63,149.65 L594.02,149.95 L594.40,150.27 L594.77,150.60 L595.14,150.93 L595.49,151.28 L595.84,151.63 L596.19,152.00 L596.53,152.36 L596.86,152.74 L597.18,153.12 L597.50,153.51 L597.82,153.91 L598.13,154.30 L598.44,154.71 L598.74,155.11 L599.04,155.52 L599.34,155.94 L599.63,156.35 L599.93,156.77 L600.22,157.18 L600.51,157.60 L600.80,158.02 L601.09,158.44 L601.37,158.85 L601.66,159.27 L601.95,159.68 L602.25,160.09 L602.54,160.50 L602.84,160.90 L603.14,161.31 L603.44,161.70 L603.75,162.09 L604.06,162.48 L604.38,162.86 L604.70,163.24 L605.04,163.61 L605.37,163.97 L605.72,164.32 L606.07,164.67 L606.43,165.01 L606.80,165.34 L607.18,165.66 L607.56,165.98 L607.95,166.29 L608.35,166.59 L608.75,166.89 L609.15,167.19 L609.56,167.48 L609.98,167.76 L610.39,168.04 L610.81,168.32 L611.24,168.60 L611.66,168.88 L612.08,169.15 L612.51,169.43 L612.93,169.70 L613.36,169.98 L613.78,170.26 L614.20,170.54 L614.61,170.82 L615.02,171.11 L615.43,171.41 L615.83,171.71 L616.22,172.01 L616.61,172.32 L616.99,172.65 L617.36,172.98 L617.72,173.32 L618.07,173.67 L618.40,174.03 L618.73,174.40 L619.06,174.78 L619.37,175.17 L619.68,175.56 L619.98,175.96 L620.28,176.36 L620.58,176.76 L620.88,177.17 L621.17,177.58 L621.47,177.98 L621.77,178.39 L622.07,178.79 L622.37,179.19 L622.68,179.59 L622.99,179.98 L623.31,180.36 L623.64,180.74 L623.98,181.10 L624.33,181.46 L624.68,181.81 L625.04,182.15 L625.41,182.49 L625.79,182.82 L626.17,183.15 L626.55,183.47 L626.94,183.79 L627.33,184.10 L627.72,184.42 L628.11,184.73 L628.51,185.04 L628.90,185.35 L629.30,185.66 L629.69,185.97 L630.08,186.29 L630.47,186.60 L630.86,186.92 L631.24,187.24 L631.62,187.57 L632.00,187.89 L632.38,188.22 L632.76,188.55 L633.13,188.88 L633.50,189.21 L633.87,189.55 L634.24,189.89 L634.60,190.23 L634.96,190.58 L635.32,190.93 L635.68,191.28 L636.03,191.63 L636.38,191.99 L636.73,192.34 L637.08,192.70 L637.43,193.06 L637.78,193.42 L638.13,193.78 L638.48,194.14 L638.83,194.50 L639.18,194.85 L639.53,195.21 L639.89,195.56 L640.24,195.91 L640.60,196.25 L640.97,196.60 L641.34,196.93 L641.71,197.27 L642.08,197.59 L642.46,197.92 L642.85,198.24 L643.23,198.55 L643.62,198.87 L644.01,199.18 L644.41,199.49 L644.80,199.80 L645.20,200.10 L645.59,200.41 L645.99,200.71 L646.39,201.02 L646.79,201.32 L647.18,201.62 L647.58,201.93 L647.98,202.24 L648.37,202.54 L648.77,202.85 L649.16,203.16 L649.55,203.48 L649.94,203.79 L650.33,204.11 L650.71,204.42 L651.10,204.74 L651.49,205.06 L651.87,205.38 L652.26,205.70 L652.64,206.02 L653.03,206.33 L653.42,206.65 L653.80,206.97 L654.19,207.28 L654.58,207.59 L654.97,207.90 L655.37,208.21 L655.76,208.52 L656.16,208.82 L656.56,209.12 L656.96,209.42 L657.36,209.71 L657.77,210.01 L658.17,210.30 L658.58,210.59 L658.99,210.87 L659.40,211.16 L659.81,211.44 L660.22,211.73 L660.64,212.01 L661.05,212.29 L661.47,212.57 L661.88,212.85 L662.30,213.13 L662.71,213.41 L663.13,213.68 L663.54,213.96 L663.96,214.24 L664.37,214.52 L664.79,214.80 L665.20,215.08 L665.62,215.36 L666.04,215.64 L666.45,215.91 L666.87,216.19 L667.28,216.47 L667.70,216.75 L668.12,217.02 L668.53,217.30 L668.95,217.57 L669.37,217.84 L669.79,218.12 L670.21,218.39 L670.63,218.66 L671.05,218.92 L671.48,219.19 L671.90,219.46 L672.32,219.72 L672.75,219.99 L673.17,220.25 L673.60,220.51 L674.03,220.77 L674.46,221.03 L674.89,221.28 L675.32,221.54 L675.75,221.79 L676.18,222.05 L676.61,222.30 L677.04,222.55 L677.47,222.80 L677.91,223.05 L678.34,223.30 L678.78,223.54 L679.21,223.79 L679.65,224.03 L680.09,224.28 L680.52,224.52 L680.96,224.76 L681.40,225.00 L681.84,225.25 L682.27,225.49 L682.71,225.73 L683.15,225.97 L683.59,226.21 L684.02,226.45 L684.46,226.70 L684.90,226.94 L685.34,227.18 L685.77,227.43 L686.21,227.67 L686.64,227.92 L687.08,228.17 L687.51,228.42 L687.94,228.66 L688.38,228.92 L688.81,229.17 L689.24,229.42 L689.67,229.68 L690.10,229.94 L690.52,230.19 L690.95,230.45 L691.38,230.72 L691.80,230.98 L692.23,231.24 L692.66,231.50 L693.08,231.76 L693.51,232.03 L693.93,232.29 L694.36,232.55 L694.79,232.81 L695.21,233.07 L695.64,233.33 L696.07,233.59 L696.50,233.85 L696.93,234.10 L697.36,234.36 L697.79,234.61 L698.22,234.86 L698.66,235.10 L699.09,235.35 L699.53,235.59 L699.97,235.83 L700.41,236.07 L700.85,236.31 L701.29,236.54 L701.73,236.78 L702.17,237.01 L702.62,237.24 L703.06,237.47 L703.50,237.71 L703.95,237.94 L704.39,238.17 L704.83,238.40 L705.28,238.63 L705.72,238.86 L706.16,239.09 L706.61,239.33 L707.05,239.56 L707.49,239.79 L707.93,240.03 L708.37,240.27 L708.81,240.51 L709.25,240.74 L709.69,240.99 L710.13,241.23 L710.56,241.47 L711.00,241.71 L711.44,241.96 L711.87,242.20 L712.31,242.45 L712.74,242.70 L713.18,242.95 L713.61,243.19 L714.04,243.44 L714.47,243.70 L714.91,243.95 L715.34,244.20 L715.77,244.45 L716.20,244.71 L716.63,244.96 L717.06,245.21 L717.49,245.47 L717.92,245.72 L718.35,245.98 L718.78,246.24 L719.21,246.49 L719.64,246.75 L720.07,247.01 L720.49,247.27 L720.92,247.52 L721.35,247.78 L721.78,248.04 L722.21,248.30 L722.64,248.55 L723.07,248.81 L723.50,249.07 L723.92,249.32 L724.35,249.58 L724.78,249.84 L725.21,250.09 L725.64,250.35 L726.07,250.60 L726.50,250.86 L726.94,251.11 L727.37,251.36 L727.80,251.62 L728.23,251.87 L728.66,252.12 L729.09,252.38 L729.52,252.63 L729.95,252.89 L730.38,253.14 L730.81,253.40 L731.24,253.66 L731.67,253.92 L732.10,254.17 L732.52,254.44 L732.95,254.70 L733.37,254.96 L733.80,255.23 L734.22,255.50 L734.64,255.77 L735.06,256.04 L735.48,256.31 L735.89,256.59 L736.31,256.87 L736.72,257.15 L737.13,257.43 L737.55,257.71 L737.96,257.99 L738.37,258.28 L738.78,258.57 L739.19,258.85 L739.59,259.14 L740.00,259.43 L740.41,259.72 L740.82,260.01 L741.23,260.30 L741.63,260.59 L742.04,260.88 L742.45,261.17 L742.86,261.46 L743.27,261.75 L743.68,262.03 L744.09,262.32 L744.50,262.61 L744.91,262.89 L745.32,263.17 L745.73,263.46 L746.15,263.74 L746.56,264.02 L746.97,264.30 L747.39,264.59 L747.80,264.87 L748.21,265.15 L748.62,265.43 L749.04,265.71 L749.45,266.00 L749.86,266.28 L750.27,266.57 L750.68,266.85 L751.09,267.14 L751.50,267.43 L751.91,267.72 L752.31,268.01 L752.72,268.30 L753.12,268.60 L753.52,268.89 L753.92,269.19 L754.32,269.49 L754.72,269.79 L755.12,270.10 L755.51,270.40 L755.91,270.71 L756.30,271.02 L756.69,271.33 L757.08,271.64 L757.47,271.96 L757.86,272.27 L758.25,272.58 L758.64,272.90 L759.03,273.22 L759.41,273.54 L759.80,273.85 L760.18,274.17 L760.57,274.49 L760.95,274.81 L761.34,275.13 L761.72,275.45 L762.11,275.77 L762.49,276.09 L762.87,276.41 L763.26,276.73 L763.64,277.05 L764.03,277.37 L764.41,277.69 L764.80,278.01 L765.18,278.33 L765.57,278.65 L765.95,278.97 L766.33,279.29 L766.72,279.61 L767.10,279.93 L767.49,280.25 L767.87,280.57 L768.25,280.90 L768.63,281.22 L769.01,281.54 L769.39,281.87 L769.78,282.19 L770.15,282.52 L770.53,282.84 L770.91,283.17 L771.29,283.50 L771.67,283.83 L772.04,284.16 L772.42,284.49 L772.79,284.82 L773.16,285.16 L773.53,285.49 L773.90,285.83 L774.27,286.17 L774.63,286.51 L775.00,286.85 L775.36,287.20 L775.72,287.54 L776.08,287.89 L776.44,288.24 L776.79,288.59 L777.15,288.95 L777.50,289.30 L777.85,289.66 L778.19,290.02 L778.54,290.38 L778.88,290.75 L779.22,291.11 L779.56,291.48 L779.90,291.84 L780.24,292.21 L780.58,292.58 L780.92,292.95 L781.25,293.32 L781.59,293.69 L781.93,294.06 L782.26,294.43 L782.60,294.80 L782.94,295.17 L783.28,295.54 L783.62,295.90 L783.96,296.27 L784.30,296.63 L784.64,297.00 L784.98,297.36 L785.33,297.73 L785.67,298.09 L786.02,298.45 L786.36,298.81 L786.71,299.17 L787.06,299.53 L787.40,299.89 L787.75,300.25 L788.10,300.61 L788.45,300.97 L788.79,301.33 L789.14,301.69 L789.49,302.05 L789.83,302.41 L790.18,302.77 L790.53,303.13 L790.87,303.49 L791.22,303.86 L791.56,304.22 L791.90,304.58 L792.25,304.95 L792.59,305.31 L792.93,305.68 L793.27,306.05 L793.61,306.41 L793.95,306.78 L794.28,307.15 L794.62,307.52 L794.95,307.89 L795.29,308.27 L795.62,308.64 L795.95,309.01 L796.28,309.39 L796.61,309.77 L796.93,310.15 L797.26,310.52 L797.58,310.90 L797.91,311.29 L798.23,311.67 L798.55,312.05 L798.88,312.43 L799.20,312.82 L799.52,313.20 L799.84,313.58 L800.16,313.97 L800.48,314.35 L800.80,314.73 L801.12,315.12 L801.44,315.50 L801.77,315.88 L802.09,316.26 L802.41,316.64 L802.74,317.03 L803.06,317.41 L803.39,317.78 L803.71,318.16 L804.04,318.54 L804.37,318.92 L804.70,319.30 L805.03,319.67 L805.35,320.05 L805.68,320.43 L806.01,320.80 L806.34,321.18 L806.67,321.56 L806.99,321.94 L807.32,322.32 L807.65,322.70 L807.97,323.08 L808.29,323.46 L808.62,323.84 L808.94,324.22 L809.26,324.61 L809.58,324.99 L809.89,325.38 L810.21,325.76 L810.53,326.15 L810.84,326.54 L811.16,326.93 L811.47,327.31 L811.79,327.70 L812.10,328.09 L812.42,328.48 L812.73,328.87 L813.05,329.26 L813.36,329.65 L813.68,330.04 L813.99,330.42 L814.31,330.81 L814.63,331.20 L814.94,331.58 L815.26,331.97 L815.58,332.35 L815.90,332.74 L816.22,333.12 L816.54,333.51 L816.86,333.89 L817.18,334.27 L817.50,334.66 L817.83,335.04 L818.15,335.42 L818.47,335.80 L818.80,336.18 L819.12,336.56 L819.45,336.94 L819.77,337.32 L820.10,337.70 L820.43,338.08 L820.75,338.46 L821.08,338.83 L821.41,339.21 L821.74,339.59 L822.07,339.96 L822.40,340.34 L822.73,340.72 L823.06,341.09 L823.39,341.47 L823.72,341.84 L824.05,342.22 L824.38,342.59 L824.71,342.96 L825.05,343.34 L825.38,343.71 L825.71,344.08 L826.04,344.46 L826.38,344.83 L826.71,345.20 L826.80,345.30" stroke="#f00"/>
<g fill="#ff8a12" stroke="none"><circle cx="456.80" cy="44.40" r="1.75"/><circle cx="464.90" cy="49.50" r="1.75"/><circle cx="472.40" cy="54.50" r="1.75"/><circle cx="480.50" cy="59.60" r="1.75"/><circle cx="487.60" cy="64.20" r="1.75"/><circle cx="495.60" cy="68.50" r="1.75"/><circle cx="504.20" cy="72.20" r="1.75"/><circle cx="512.50" cy="76.00" r="1.75"/><circle cx="520.60" cy="80.30" r="1.75"/><circle cx="527.60" cy="86.30" r="1.75"/><circle cx="533.90" cy="93.10" r="1.75"/><circle cx="540.10" cy="100.30" r="1.75"/><circle cx="546.40" cy="107.20" r="1.75"/><circle cx="553.70" cy="112.30" r="1.75"/><circle cx="562.20" cy="116.40" r="1.75"/><circle cx="569.40" cy="121.80" r="1.75"/><circle cx="575.30" cy="129.20" r="1.75"/><circle cx="581.20" cy="136.50" r="1.75"/><circle cx="588.20" cy="141.80" r="1.75"/><circle cx="596.10" cy="146.60" r="1.75"/><circle cx="602.40" cy="153.50" r="1.75"/><circle cx="608.60" cy="160.30" r="1.75"/><circle cx="616.10" cy="165.50" r="1.75"/><circle cx="623.00" cy="172.00" r="1.75"/><circle cx="629.90" cy="177.90" r="1.75"/><circle cx="636.90" cy="184.00" r="1.75"/><circle cx="644.10" cy="189.60" r="1.75"/><circle cx="651.50" cy="195.50" r="1.75"/><circle cx="658.70" cy="201.00" r="1.75"/><circle cx="666.30" cy="206.50" r="1.75"/><circle cx="673.60" cy="211.90" r="1.75"/><circle cx="681.10" cy="217.20" r="1.75"/><circle cx="688.90" cy="222.30" r="1.75"/><circle cx="696.50" cy="227.30" r="1.75"/><circle cx="704.00" cy="233.00" r="1.75"/><circle cx="711.70" cy="238.20" r="1.75"/><circle cx="719.30" cy="243.50" r="1.75"/><circle cx="727.00" cy="248.60" r="1.75"/><circle cx="734.50" cy="254.10" r="1.75"/><circle cx="742.00" cy="259.60" r="1.75"/><circle cx="749.40" cy="265.10" r="1.75"/><circle cx="756.50" cy="271.20" r="1.75"/><circle cx="763.50" cy="277.10" r="1.75"/><circle cx="770.30" cy="283.10" r="1.75"/><circle cx="776.90" cy="289.50" r="1.75"/><circle cx="783.70" cy="295.80" r="1.75"/><circle cx="448.17" cy="40.08" r="1.75"/><circle cx="439.46" cy="36.29" r="1.75"/><circle cx="430.40" cy="33.48" r="1.75"/><circle cx="421.07" cy="31.66" r="1.75"/><circle cx="411.63" cy="30.73" r="1.75"/><circle cx="402.13" cy="30.81" r="1.75"/><circle cx="392.67" cy="31.67" r="1.75"/><circle cx="383.27" cy="33.00" r="1.75"/><circle cx="373.95" cy="34.83" r="1.75"/><circle cx="364.73" cy="37.14" r="1.75"/><circle cx="355.60" cy="39.76" r="1.75"/><circle cx="346.73" cy="43.14" r="1.75"/><circle cx="337.96" cy="46.79" r="1.75"/><circle cx="329.11" cy="50.24" r="1.75"/><circle cx="320.35" cy="53.93" r="1.75"/><circle cx="311.77" cy="58.00" r="1.75"/><circle cx="303.35" cy="62.40" r="1.75"/><circle cx="295.04" cy="67.00" r="1.75"/><circle cx="286.72" cy="71.59" r="1.75"/><circle cx="278.30" cy="75.99" r="1.75"/><circle cx="269.87" cy="80.36" r="1.75"/><circle cx="261.56" cy="84.97" r="1.75"/><circle cx="253.42" cy="89.86" r="1.75"/><circle cx="245.32" cy="94.82" r="1.75"/><circle cx="237.19" cy="99.74" r="1.75"/><circle cx="229.03" cy="104.61" r="1.75"/><circle cx="220.85" cy="109.44" r="1.75"/><circle cx="212.71" cy="114.34" r="1.75"/><circle cx="204.68" cy="119.41" r="1.75"/><circle cx="196.69" cy="124.55" r="1.75"/><circle cx="790.23" cy="302.82" r="1.75"/><circle cx="796.65" cy="309.82" r="1.75"/><circle cx="802.78" cy="317.08" r="1.75"/><circle cx="808.98" cy="324.27" r="1.75"/><circle cx="814.98" cy="331.63" r="1.75"/><circle cx="821.12" cy="338.88" r="1.75"/></g>
<path d="M192.00,127.50 L192.42,127.24 L192.85,126.97 L193.27,126.71 L193.70,126.44 L194.12,126.18 L194.54,125.91 L194.97,125.64 L195.39,125.37 L195.81,125.11 L196.23,124.84 L196.65,124.57 L197.08,124.30 L197.50,124.03 L197.92,123.76 L198.34,123.49 L198.76,123.22 L199.18,122.95 L199.60,122.68 L200.02,122.41 L200.44,122.14 L200.86,121.87 L201.28,121.60 L201.70,121.33 L202.12,121.05 L202.54,120.78 L202.96,120.51 L203.38,120.24 L203.80,119.97 L204.22,119.70 L204.64,119.43 L205.06,119.16 L205.49,118.89 L205.91,118.62 L206.33,118.35 L206.75,118.08 L207.17,117.81 L207.59,117.54 L208.01,117.28 L208.44,117.01 L208.86,116.74 L209.28,116.48 L209.71,116.21 L210.13,115.94 L210.55,115.68 L210.98,115.41 L211.40,115.15 L211.83,114.89 L212.25,114.63 L212.68,114.36 L213.11,114.10 L213.53,113.84 L213.96,113.58 L214.39,113.32 L214.81,113.06 L215.24,112.80 L215.67,112.54 L216.10,112.28 L216.52,112.03 L216.95,111.77 L217.38,111.51 L217.81,111.25 L218.24,111.00 L218.67,110.74 L219.10,110.49 L219.53,110.23 L219.96,109.97 L220.39,109.72 L220.82,109.46 L221.25,109.21 L221.68,108.95 L222.11,108.70 L222.54,108.44 L222.97,108.19 L223.40,107.93 L223.83,107.68 L224.26,107.43 L224.69,107.17 L225.12,106.92 L225.55,106.66 L225.98,106.41 L226.41,106.16 L226.85,105.90 L227.28,105.65 L227.71,105.39 L228.14,105.14 L228.57,104.88 L229.00,104.63 L229.43,104.38 L229.86,104.12 L230.29,103.87 L230.72,103.61 L231.15,103.36 L231.58,103.10 L232.01,102.84 L232.44,102.59 L232.87,102.33 L233.30,102.08 L233.73,101.82 L234.16,101.56 L234.58,101.31 L235.01,101.05 L235.44,100.79 L235.87,100.54 L236.30,100.28 L236.73,100.02 L237.16,99.76 L237.58,99.51 L238.01,99.25 L238.44,98.99 L238.87,98.73 L239.30,98.47 L239.73,98.21 L240.15,97.96 L240.58,97.70 L241.01,97.44 L241.44,97.18 L241.86,96.92 L242.29,96.66 L242.72,96.40 L243.15,96.14 L243.57,95.88 L244.00,95.62 L244.43,95.36 L244.85,95.10 L245.28,94.84 L245.71,94.58 L246.14,94.32 L246.56,94.06 L246.99,93.80 L247.42,93.54 L247.84,93.28 L248.27,93.02 L248.70,92.76 L249.12,92.49 L249.55,92.23 L249.97,91.97 L250.40,91.71 L250.83,91.45 L251.25,91.19 L251.68,90.93 L252.11,90.66 L252.53,90.40 L252.96,90.14 L253.39,89.88 L253.81,89.62 L254.24,89.36 L254.67,89.10 L255.09,88.84 L255.52,88.58 L255.95,88.32 L256.37,88.06 L256.80,87.80 L257.23,87.54 L257.66,87.28 L258.09,87.02 L258.52,86.77 L258.94,86.51 L259.37,86.25 L259.80,86.00 L260.23,85.74 L260.67,85.49 L261.10,85.24 L261.53,84.98 L261.96,84.73 L262.39,84.48 L262.83,84.23 L263.26,83.98 L263.69,83.74 L264.13,83.49 L264.56,83.24 L265.00,83.00 L265.44,82.76 L265.87,82.51 L266.31,82.27 L266.75,82.03 L267.19,81.79 L267.63,81.56 L268.07,81.32 L268.51,81.08 L268.95,80.85 L269.39,80.61 L269.83,80.38 L270.27,80.14 L270.72,79.91 L271.16,79.68 L271.60,79.45 L272.05,79.21 L272.49,78.98 L272.93,78.75 L273.38,78.52 L273.82,78.29 L274.27,78.06 L274.71,77.83 L275.15,77.61 L275.60,77.38 L276.04,77.15 L276.49,76.92 L276.93,76.69 L277.38,76.46 L277.82,76.24 L278.27,76.01 L278.71,75.78 L279.16,75.55 L279.60,75.32 L280.05,75.09 L280.49,74.86 L280.94,74.63 L281.38,74.40 L281.82,74.17 L282.27,73.94 L282.71,73.71 L283.15,73.48 L283.60,73.25 L284.04,73.01 L284.48,72.78 L284.92,72.55 L285.37,72.31 L285.81,72.08 L286.25,71.84 L286.69,71.60 L287.13,71.37 L287.57,71.13 L288.01,70.89 L288.44,70.65 L288.88,70.41 L289.32,70.17 L289.76,69.93 L290.20,69.69 L290.64,69.45 L291.07,69.20 L291.51,68.96 L291.95,68.72 L292.39,68.48 L292.82,68.23 L293.26,67.99 L293.70,67.75 L294.13,67.50 L294.57,67.26 L295.01,67.02 L295.44,66.77 L295.88,66.53 L296.32,66.29 L296.75,66.04 L297.19,65.80 L297.63,65.56 L298.06,65.31 L298.50,65.07 L298.94,64.83 L299.37,64.58 L299.81,64.34 L300.25,64.10 L300.69,63.86 L301.13,63.62 L301.56,63.38 L302.00,63.14 L302.44,62.90 L302.88,62.66 L303.32,62.42 L303.76,62.18 L304.20,61.94 L304.64,61.71 L305.08,61.47 L305.52,61.23 L305.96,61.00 L306.41,60.77 L306.85,60.53 L307.29,60.30 L307.73,60.07 L308.18,59.84 L308.62,59.61 L309.07,59.38 L309.51,59.15 L309.96,58.92 L310.40,58.69 L310.85,58.47 L311.30,58.24 L311.74,58.02 L312.19,57.79 L312.64,57.57 L313.09,57.35 L313.54,57.13 L313.99,56.91 L314.44,56.69 L314.89,56.47 L315.34,56.26 L315.79,56.04 L316.24,55.83 L316.69,55.61 L317.15,55.40 L317.60,55.19 L318.05,54.98 L318.51,54.77 L318.96,54.56 L319.42,54.35 L319.87,54.14 L320.33,53.94 L320.78,53.73 L321.24,53.53 L321.70,53.33 L322.16,53.13 L322.61,52.93 L323.07,52.73 L323.53,52.53 L323.99,52.33 L324.45,52.14 L324.91,51.95 L325.37,51.75 L325.84,51.56 L326.30,51.37 L326.76,51.18 L327.22,50.99 L327.69,50.81 L328.15,50.62 L328.62,50.43 L329.08,50.25 L329.55,50.07 L330.01,49.88 L330.48,49.70 L330.94,49.52 L331.41,49.34 L331.87,49.16 L332.34,48.97 L332.81,48.79 L333.27,48.61 L333.74,48.43 L334.21,48.25 L334.67,48.07 L335.14,47.89 L335.60,47.71 L336.07,47.53 L336.54,47.35 L337.00,47.17 L337.47,46.98 L337.93,46.80 L338.40,46.62 L338.86,46.43 L339.33,46.25 L339.79,46.06 L340.26,45.88 L340.72,45.69 L341.18,45.50 L341.65,45.31 L342.11,45.12 L342.57,44.93 L343.03,44.74 L343.49,44.55 L343.95,44.35 L344.41,44.15 L344.87,43.96 L345.33,43.76 L345.79,43.55 L346.25,43.35 L346.70,43.15 L347.16,42.95 L347.62,42.75 L348.08,42.55 L348.54,42.35 L349.00,42.15 L349.46,41.96 L349.92,41.77 L350.39,41.59 L350.85,41.40 L351.32,41.23 L351.79,41.05 L352.26,40.88 L352.73,40.71 L353.20,40.55 L353.67,40.39 L354.15,40.23 L354.62,40.07 L355.10,39.92 L355.57,39.77 L356.05,39.62 L356.53,39.47 L357.01,39.33 L357.49,39.19 L357.97,39.04 L358.45,38.90 L358.93,38.76 L359.41,38.62 L359.89,38.49 L360.38,38.35 L360.86,38.21 L361.34,38.08 L361.82,37.94 L362.30,37.81 L362.78,37.68 L363.27,37.54 L363.75,37.41 L364.23,37.28 L364.71,37.15 L365.20,37.02 L365.68,36.89 L366.16,36.76 L366.65,36.63 L367.13,36.51 L367.61,36.38 L368.10,36.26 L368.58,36.13 L369.07,36.01 L369.55,35.89 L370.04,35.77 L370.52,35.65 L371.01,35.53 L371.49,35.41 L371.98,35.29 L372.47,35.18 L372.95,35.06 L373.44,34.95 L373.93,34.84 L374.41,34.73 L374.90,34.62 L375.39,34.51 L375.88,34.40 L376.37,34.30 L376.86,34.20 L377.35,34.10 L377.84,34.00 L378.33,33.90 L378.82,33.80 L379.31,33.70 L379.80,33.61 L380.29,33.52 L380.78,33.43 L381.28,33.34 L381.77,33.26 L382.26,33.17 L382.75,33.09 L383.25,33.01 L383.74,32.93 L384.23,32.85 L384.73,32.77 L385.22,32.69 L385.72,32.62 L386.21,32.55 L386.71,32.47 L387.20,32.40 L387.70,32.33 L388.19,32.26 L388.69,32.19 L389.18,32.13 L389.68,32.06 L390.17,31.99 L390.67,31.93 L391.17,31.86 L391.66,31.80 L392.16,31.74 L392.66,31.67 L393.15,31.61 L393.65,31.55 L394.15,31.49 L394.64,31.44 L395.14,31.38 L395.64,31.33 L396.13,31.27 L396.63,31.22 L397.13,31.17 L397.63,31.13 L398.12,31.08 L398.62,31.04 L399.12,31.00 L399.62,30.96 L400.12,30.93 L400.62,30.89 L401.12,30.86 L401.61,30.83 L402.11,30.81 L402.61,30.79 L403.11,30.77 L403.61,30.75 L404.11,30.74 L404.61,30.72 L405.11,30.71 L405.61,30.70 L406.11,30.70 L406.61,30.69 L407.11,30.69 L407.61,30.69 L408.11,30.70 L408.61,30.70 L409.12,30.71 L409.62,30.72 L410.12,30.73 L410.62,30.74 L411.12,30.76 L411.62,30.78 L412.12,30.80 L412.62,30.83 L413.12,30.86 L413.61,30.90 L414.11,30.94 L414.61,30.98 L415.11,31.03 L415.60,31.09 L416.10,31.15 L416.60,31.22 L417.09,31.29 L417.58,31.36 L418.08,31.44 L418.57,31.52 L419.07,31.60 L419.56,31.68 L420.05,31.76 L420.55,31.84 L421.04,31.91 L421.54,31.99 L422.03,32.07 L422.52,32.15 L423.02,32.22 L423.51,32.30 L424.01,32.38 L424.50,32.46 L424.99,32.55 L425.48,32.63 L425.98,32.72 L426.47,32.81 L426.96,32.91 L427.45,33.01 L427.94,33.11 L428.43,33.22 L428.91,33.34 L429.40,33.45 L429.89,33.57 L430.37,33.70 L430.85,33.83 L431.34,33.97 L431.82,34.10 L432.30,34.25 L432.78,34.39 L433.25,34.55 L433.73,34.70 L434.21,34.86 L434.68,35.03 L435.15,35.19 L435.62,35.37 L436.09,35.54 L436.55,35.72 L437.02,35.91 L437.48,36.10 L437.94,36.29 L438.40,36.49 L438.86,36.69 L439.32,36.89 L439.77,37.10 L440.23,37.31 L440.68,37.52 L441.13,37.73 L441.58,37.95 L442.03,38.17 L442.48,38.39 L442.93,38.62 L443.37,38.84 L443.82,39.07 L444.26,39.31 L444.70,39.54 L445.14,39.78 L445.58,40.02 L446.02,40.26 L446.46,40.50 L446.89,40.75 L447.33,41.00 L447.76,41.25 L448.19,41.50 L448.63,41.75 L449.06,42.01 L449.48,42.27 L449.91,42.53 L450.34,42.79 L450.77,43.05 L451.19,43.32 L451.61,43.59 L452.04,43.85 L452.46,44.13 L452.88,44.40 L453.30,44.67 L453.72,44.95 L454.13,45.22 L454.55,45.50 L454.97,45.78 L455.38,46.06 L455.79,46.34 L456.21,46.63 L456.62,46.91 L457.03,47.19 L457.44,47.48 L457.85,47.77 L458.26,48.06 L458.67,48.34 L459.07,48.63 L459.48,48.92 L459.89,49.21 L460.30,49.51 L460.70,49.80 L461.11,50.09 L461.51,50.38 L461.92,50.67 L462.33,50.96 L462.73,51.26 L463.14,51.55 L463.54,51.84 L463.95,52.13 L464.36,52.42 L464.76,52.72 L465.17,53.01 L465.58,53.30 L465.98,53.59 L466.39,53.87 L466.80,54.16 L467.21,54.45 L467.62,54.74 L468.03,55.02 L468.44,55.31 L468.85,55.59 L469.26,55.87 L469.67,56.15 L470.09,56.44 L470.50,56.71 L470.92,56.99 L471.33,57.27 L471.75,57.55 L472.17,57.82 L472.59,58.10 L473.00,58.37 L473.42,58.65 L473.84,58.92 L474.26,59.19 L474.68,59.47 L475.10,59.74 L475.51,60.02 L475.93,60.29 L476.35,60.56 L476.77,60.84 L477.19,61.11 L477.60,61.39 L478.02,61.67 L478.44,61.94 L478.85,62.22 L479.27,62.50 L479.68,62.78 L480.09,63.06 L480.51,63.35 L480.92,63.63 L481.33,63.91 L481.74,64.20 L482.15,64.49 L482.56,64.77 L482.97,65.06 L483.37,65.35 L483.78,65.64 L484.19,65.93 L484.60,66.22 L485.00,66.51 L485.41,66.80 L485.82,67.09 L486.23,67.38 L486.63,67.67 L487.04,67.96 L487.45,68.25 L487.86,68.54 L488.27,68.82 L488.68,69.11 L489.09,69.40 L489.50,69.68 L489.91,69.97 L490.32,70.25 L490.73,70.53 L491.14,70.81 L491.56,71.10 L491.97,71.37 L492.39,71.65 L492.80,71.93 L493.22,72.21 L493.64,72.48 L494.06,72.75 L494.48,73.03 L494.90,73.30 L495.32,73.57 L495.74,73.84 L496.16,74.11 L496.58,74.37 L497.01,74.64 L497.43,74.91 L497.86,75.17 L498.28,75.43 L498.71,75.69 L499.13,75.96 L499.56,76.22 L499.99,76.47 L500.42,76.73 L500.85,76.99 L501.28,77.24 L501.71,77.50 L502.14,77.75 L502.57,78.01 L503.00,78.26 L503.43,78.52 L503.86,78.78 L504.29,79.03 L504.72,79.29 L505.15,79.55 L505.58,79.81 L506.01,80.07 L506.43,80.33 L506.85,80.60 L507.28,80.87 L507.70,81.13 L508.12,81.41 L508.53,81.68 L508.95,81.96 L509.36,82.24 L509.77,82.53 L510.18,82.81 L510.58,83.11 L510.99,83.40 L511.39,83.70 L511.79,84.00 L512.18,84.31 L512.57,84.62 L512.96,84.93 L513.35,85.25 L513.74,85.57 L514.12,85.89 L514.50,86.22 L514.88,86.54 L515.25,86.87 L515.63,87.21 L516.00,87.54 L516.37,87.88 L516.74,88.22 L517.11,88.56 L517.47,88.90 L517.83,89.25 L518.19,89.60 L518.55,89.95 L518.91,90.30 L519.27,90.65 L519.62,91.00 L519.97,91.36 L520.32,91.71 L520.67,92.07 L521.02,92.43 L521.36,92.79 L521.71,93.15 L522.05,93.51 L522.39,93.88 L522.73,94.24 L523.07,94.61 L523.41,94.98 L523.75,95.35 L524.08,95.72 L524.42,96.09 L524.75,96.47 L525.08,96.84 L525.42,97.22 L525.75,97.60 L526.08,97.97 L526.40,98.35 L526.73,98.74 L527.05,99.12 L527.38,99.51 L527.69,99.89 L528.01,100.28 L528.32,100.67 L528.63,101.07 L528.94,101.46 L529.24,101.86 L529.54,102.27 L529.83,102.67 L530.12,103.08 L530.40,103.49 L530.68,103.90 L530.95,104.32 L531.22,104.74 L531.48,105.17 L531.74,105.60 L531.98,106.03 L532.23,106.47 L532.47,106.91 L532.70,107.35 L532.93,107.79 L533.16,108.23 L533.39,108.68 L533.61,109.13 L533.84,109.58 L534.06,110.02 L534.28,110.47 L534.51,110.92 L534.73,111.37 L534.96,111.81 L535.19,112.26 L535.42,112.70 L535.66,113.14 L535.89,113.59 L536.13,114.03 L536.37,114.47 L536.61,114.90 L536.86,115.34 L537.10,115.78 L537.35,116.21 L537.60,116.65 L537.85,117.08 L538.10,117.51 L538.36,117.94 L538.61,118.37 L538.87,118.80 L539.13,119.23 L539.39,119.65 L539.66,120.08 L539.92,120.50 L540.19,120.92 L540.46,121.35 L540.73,121.77 L541.00,122.19 L541.27,122.61 L541.55,123.02 L541.83,123.44 L542.10,123.85 L542.38,124.27 L542.67,124.68 L542.95,125.10 L543.23,125.51 L543.52,125.92 L543.80,126.33 L544.09,126.74 L544.38,127.15 L544.67,127.55 L544.96,127.96 L545.25,128.37 L545.54,128.77 L545.83,129.18 L546.12,129.59 L546.42,129.99 L546.71,130.40 L547.00,130.80 L547.29,131.21 L547.59,131.61 L547.88,132.02 L548.17,132.43 L548.46,132.83 L548.75,133.24 L549.05,133.64 L549.34,134.05 L549.63,134.46 L549.92,134.86 L550.20,135.27 L550.49,135.68 L550.78,136.09 L551.07,136.50 L551.36,136.90 L551.65,137.31 L551.93,137.72 L552.22,138.13 L552.51,138.54 L552.80,138.94 L553.09,139.35 L553.38,139.76 L553.67,140.17 L553.96,140.57 L554.25,140.98 L554.54,141.38 L554.84,141.79 L555.13,142.19 L555.43,142.60 L555.73,143.00 L556.03,143.40 L556.33,143.80 L556.63,144.20 L556.93,144.60 L557.23,145.00 L557.54,145.40 L557.85,145.80 L558.15,146.19 L558.46,146.59 L558.77,146.99 L559.07,147.39 L559.38,147.78 L559.68,148.18 L559.99,148.58 L560.29,148.98 L560.59,149.38 L560.89,149.79 L561.18,150.19 L561.47,150.60 L561.76,151.01 L562.05,151.42 L562.33,151.83 L562.60,152.24 L562.88,152.66 L563.15,153.08 L563.41,153.50 L563.67,153.93 L563.92,154.36 L564.16,154.79 L564.41,155.23 L564.64,155.67 L564.87,156.11 L565.10,156.55 L565.32,157.00 L565.54,157.45 L565.76,157.90 L565.98,158.35 L566.19,158.80 L566.41,159.25 L566.62,159.71 L566.84,160.16 L567.05,160.61 L567.27,161.06 L567.49,161.51 L567.71,161.96 L567.94,162.41 L568.17,162.85 L568.40,163.30 L568.64,163.74 L568.88,164.18 L569.12,164.61 L569.37,165.05 L569.62,165.48 L569.87,165.91 L570.13,166.35 L570.38,166.78 L570.63,167.21 L570.88,167.64 L571.13,168.07 L571.38,168.51 L571.63,168.94 L571.87,169.38 L572.10,169.82 L572.34,170.26 L572.56,170.70 L572.79,171.15 L573.00,171.60 L573.22,172.05 L573.42,172.50 L573.63,172.96 L573.83,173.41 L574.02,173.87 L574.22,174.33 L574.41,174.79 L574.59,175.25 L574.77,175.72 L574.95,176.19 L575.13,176.65 L575.30,177.12 L575.48,177.59 L575.65,178.06 L575.81,178.54 L575.98,179.01 L576.14,179.48 L576.30,179.96 L576.46,180.43 L576.62,180.91 L576.78,181.39 L576.93,181.86 L577.09,182.34 L577.25,182.82 L577.40,183.30 L577.55,183.78 L577.71,184.25 L577.86,184.73 L578.02,185.21 L578.17,185.69 L578.33,186.17 L578.48,186.64 L578.64,187.12 L578.80,187.60 L578.96,188.07 L579.12,188.55 L579.28,189.02 L579.44,189.50 L579.61,189.97 L579.77,190.45 L579.94,190.92 L580.11,191.39 L580.28,191.86 L580.45,192.33 L580.62,192.80 L580.79,193.27 L580.97,193.74 L581.14,194.21 L581.32,194.68 L581.50,195.14 L581.68,195.61 L581.86,196.08 L582.04,196.54 L582.22,197.01 L582.41,197.47 L582.59,197.94 L582.78,198.40 L582.97,198.86 L583.16,199.32 L583.35,199.79 L583.54,200.25 L583.73,200.71 L583.93,201.17 L584.12,201.63 L584.32,202.09 L584.52,202.55 L584.72,203.00 L584.92,203.46 L585.12,203.92 L585.33,204.37 L585.53,204.83 L585.74,205.29 L585.95,205.74 L586.16,206.19 L586.36,206.65 L586.58,207.10 L586.79,207.56 L587.00,208.01 L587.21,208.46 L587.43,208.91 L587.64,209.37 L587.85,209.82 L588.07,210.27 L588.28,210.72 L588.50,211.17 L588.71,211.63 L588.93,212.08 L589.14,212.53 L589.35,212.98 L589.57,213.43 L589.78,213.89 L589.99,214.34 L590.20,214.79 L590.41,215.25 L590.62,215.70 L590.83,216.16 L591.04,216.61 L591.24,217.07 L591.44,217.53 L591.65,217.98 L591.85,218.44 L592.04,218.90 L592.24,219.36 L592.43,219.82 L592.63,220.28 L592.82,220.74 L593.00,221.20 L593.19,221.67 L593.37,222.13 L593.55,222.60 L593.73,223.07 L593.91,223.53 L594.08,224.00 L594.26,224.47 L594.43,224.94 L594.60,225.41 L594.76,225.88 L594.93,226.35 L595.09,226.83 L595.25,227.30 L595.41,227.77 L595.57,228.25 L595.73,228.72 L595.88,229.20 L596.04,229.67 L596.19,230.15 L596.34,230.63 L596.49,231.11 L596.64,231.58 L596.79,232.06 L596.93,232.54 L597.08,233.02 L597.22,233.50 L597.36,233.98 L597.50,234.46 L597.64,234.94 L597.78,235.42 L597.92,235.90 L598.06,236.39 L598.20,236.87 L598.33,237.35 L598.47,237.83 L598.60,238.31 L598.74,238.80 L598.87,239.28 L599.00,239.76 L599.14,240.24 L599.27,240.73 L599.40,241.21 L599.53,241.69 L599.66,242.17 L599.79,242.66 L599.92,243.14 L600.05,243.62 L600.18,244.11 L600.31,244.59 L600.44,245.07 L600.56,245.56 L600.69,246.04 L600.82,246.52 L600.95,247.01 L601.07,247.49 L601.20,247.98 L601.33,248.46 L601.45,248.94 L601.58,249.43 L601.70,249.91 L601.83,250.39 L601.95,250.88 L602.08,251.36 L602.20,251.85 L602.33,252.33 L602.45,252.81 L602.58,253.30 L602.70,253.78 L602.83,254.27 L602.96,254.75 L603.08,255.23 L603.21,255.72 L603.33,256.20 L603.46,256.68 L603.58,257.17 L603.71,257.65 L603.83,258.14 L603.96,258.62 L604.09,259.10 L604.21,259.59 L604.34,260.07 L604.47,260.55 L604.59,261.04 L604.72,261.52 L604.85,262.00 L604.98,262.49 L605.11,262.97 L605.23,263.45 L605.36,263.94 L605.49,264.42 L605.62,264.90 L605.75,265.39 L605.88,265.87 L606.01,266.35 L606.13,266.84 L606.26,267.32 L606.39,267.80 L606.52,268.29 L606.65,268.77 L606.77,269.25 L606.90,269.74 L607.03,270.22 L607.16,270.70 L607.28,271.19 L607.41,271.67 L607.54,272.15 L607.66,272.64 L607.79,273.12 L607.91,273.61 L608.04,274.09 L608.16,274.57 L608.29,275.06 L608.41,275.54 L608.53,276.03 L608.65,276.51 L608.78,277.00 L608.90,277.48 L609.02,277.97 L609.14,278.45 L609.26,278.94 L609.37,279.43 L609.49,279.91 L609.61,280.40 L609.73,280.88 L609.85,281.37 L609.96,281.86 L610.08,282.34 L610.20,282.83 L610.32,283.31 L610.43,283.80 L610.55,284.29 L610.67,284.77 L610.79,285.26 L610.91,285.74 L611.03,286.23 L611.15,286.71 L611.27,287.20 L611.40,287.68 L611.52,288.17 L611.64,288.65 L611.77,289.13 L611.90,289.62 L612.03,290.10 L612.16,290.58 L612.29,291.07 L612.42,291.55 L612.55,292.03 L612.69,292.51 L612.83,292.99 L612.96,293.47 L613.10,293.95 L613.24,294.43 L613.38,294.91 L613.52,295.39 L613.66,295.87 L613.80,296.35 L613.94,296.83 L614.09,297.31 L614.23,297.79 L614.37,298.27 L614.52,298.75 L614.66,299.23 L614.81,299.71 L614.95,300.19 L615.10,300.66 L615.24,301.14 L615.38,301.62 L615.53,302.10 L615.67,302.58 L615.82,303.06 L615.96,303.54 L616.10,304.02 L616.25,304.50 L616.39,304.97 L616.53,305.45 L616.68,305.93 L616.82,306.41 L616.96,306.89 L617.10,307.37 L617.24,307.85 L617.38,308.33 L617.52,308.81 L617.66,309.29 L617.80,309.77 L617.94,310.25 L618.08,310.73 L618.22,311.21 L618.36,311.69 L618.50,312.17 L618.64,312.65 L618.77,313.13 L618.91,313.62 L619.05,314.10 L619.19,314.58 L619.32,315.06 L619.46,315.54 L619.60,316.02 L619.73,316.50 L619.87,316.98 L620.00,317.46 L620.14,317.95 L620.27,318.43 L620.41,318.91 L620.54,319.39 L620.68,319.87 L620.81,320.35 L620.94,320.83 L621.08,321.32 L621.21,321.80 L621.34,322.28 L621.48,322.76 L621.61,323.24 L621.74,323.73 L621.87,324.21 L622.00,324.69 L622.14,325.17 L622.27,325.66 L622.40,326.14 L622.53,326.62 L622.66,327.10 L622.79,327.59 L622.92,328.07 L623.05,328.55 L623.18,329.04 L623.31,329.52 L623.43,330.00 L623.56,330.49 L623.69,330.97 L623.82,331.45 L623.95,331.94 L624.07,332.42 L624.20,332.90 L624.33,333.39 L624.46,333.87 L624.58,334.35 L624.71,334.84 L624.84,335.32 L624.96,335.80 L625.09,336.29 L625.22,336.77 L625.34,337.25 L625.47,337.74 L625.59,338.22 L625.72,338.71 L625.85,339.19 L625.97,339.67 L626.10,340.16 L626.23,340.64 L626.35,341.13 L626.48,341.61 L626.60,342.09 L626.73,342.58 L626.86,343.06 L626.98,343.54 L627.11,344.03 L627.23,344.51 L627.36,345.00 L627.49,345.48 L627.61,345.96 L627.74,346.45 L627.87,346.93 L628.00,347.41 L628.12,347.90 L628.25,348.38 L628.38,348.86 L628.51,349.35 L628.63,349.83 L628.76,350.31 L628.89,350.80 L629.02,351.28 L629.15,351.76 L629.28,352.25 L629.41,352.73 L629.54,353.21 L629.67,353.70 L629.80,354.18 L629.93,354.66 L630.06,355.14 L630.19,355.63 L630.32,356.11 L630.46,356.59 L630.59,357.07 L630.72,357.56 L630.85,358.04 L630.99,358.52 L631.12,359.00 L631.26,359.48 L631.39,359.97 L631.53,360.45 L631.66,360.93 L631.80,361.41 L631.93,361.89 L632.07,362.37 L632.21,362.85 L632.34,363.33 L632.48,363.81 L632.62,364.29 L632.76,364.78 L632.90,365.26 L633.04,365.74 L633.18,366.22 L633.32,366.70 L633.46,367.17 L633.60,367.65 L633.74,368.13 L633.89,368.61 L634.03,369.09 L634.17,369.57 L634.32,370.05 L634.46,370.53 L634.61,371.01 L634.75,371.48 L634.90,371.96 L635.05,372.44 L635.19,372.92 L635.34,373.40 L635.49,373.87 L635.64,374.35 L635.79,374.83 L635.94,375.30 L636.09,375.78 L636.25,376.26 L636.40,376.73 L636.55,377.21 L636.71,377.68 L636.87,378.15 L637.03,378.63 L637.19,379.10 L637.35,379.58 L637.51,380.05 L637.68,380.52 L637.84,380.99 L638.01,381.46 L638.19,381.93 L638.36,382.40 L638.54,382.87 L638.71,383.34 L638.89,383.80 L639.08,384.27 L639.26,384.73 L639.45,385.20 L639.64,385.66 L639.84,386.12 L640.04,386.58 L640.24,387.04 L640.44,387.50 L640.65,387.96 L640.86,388.42 L641.08,388.87 L641.30,389.32 L641.53,389.77 L641.76,390.21 L642.00,390.65 L642.24,391.09 L642.49,391.53 L642.75,391.96 L643.01,392.38 L643.28,392.80 L643.56,393.22 L643.85,393.63 L644.14,394.03 L644.45,394.43 L644.76,394.82 L645.08,395.21 L645.41,395.59 L645.75,395.96 L646.09,396.33 L646.45,396.68 L646.81,397.03 L647.18,397.37 L647.56,397.71 L647.94,398.03 L648.34,398.35 L648.74,398.65 L649.14,398.95 L649.55,399.24 L649.97,399.51 L650.40,399.78 L650.83,400.03 L651.27,400.28 L651.71,400.51 L652.16,400.74 L652.61,400.95 L653.07,401.16 L653.53,401.35 L654.00,401.54 L654.47,401.72 L654.94,401.88 L655.42,402.04 L655.90,402.19 L656.38,402.34 L656.87,402.47 L657.35,402.60 L657.84,402.72 L658.33,402.83 L658.82,402.93 L659.31,403.03 L659.80,403.12 L660.30,403.21 L660.79,403.29 L661.28,403.37 L661.78,403.44 L662.27,403.51 L662.77,403.58 L663.26,403.65 L663.76,403.71 L664.26,403.77 L664.75,403.84 L665.25,403.90 L665.74,403.96 L666.24,404.03 L666.74,404.09 L667.23,404.16 L667.73,404.23 L668.22,404.31 L668.71,404.39 L669.21,404.47 L669.70,404.56 L670.19,404.65 L670.68,404.74 L671.17,404.84 L671.66,404.95 L672.15,405.05 L672.63,405.16 L673.12,405.28 L673.61,405.40 L674.09,405.52 L674.58,405.64 L675.06,405.77 L675.54,405.90 L676.03,406.03 L676.51,406.17 L676.99,406.30 L677.47,406.44 L677.95,406.59 L678.43,406.73 L678.91,406.88 L679.39,407.02 L679.87,407.17 L680.35,407.32 L680.82,407.48 L681.30,407.63 L681.78,407.78 L682.25,407.94 L682.73,408.10 L683.20,408.25 L683.68,408.41 L684.15,408.57 L684.63,408.73 L685.10,408.90 L685.57,409.06 L686.04,409.23 L686.51,409.39 L686.99,409.56 L687.46,409.73 L687.93,409.90 L688.40,410.07 L688.87,410.24 L689.34,410.41 L689.80,410.58 L690.27,410.76 L690.74,410.93 L691.21,411.11 L691.67,411.29 L692.14,411.47 L692.61,411.65 L693.07,411.83 L693.54,412.01 L694.01,412.19 L694.47,412.38 L694.93,412.56 L695.40,412.75 L695.86,412.94 L696.33,413.13 L696.79,413.32 L697.25,413.51 L697.71,413.70 L698.18,413.89 L698.64,414.09 L699.10,414.28 L699.56,414.48 L700.02,414.67 L700.48,414.87 L700.93,415.07 L701.39,415.27 L701.85,415.48 L702.31,415.68 L702.76,415.88 L703.22,416.09 L703.67,416.30 L704.13,416.50 L704.58,416.71 L705.03,416.92 L705.49,417.13 L705.94,417.35 L706.39,417.56 L706.84,417.78 L707.29,417.99 L707.74,418.21 L708.19,418.43 L708.64,418.65 L709.09,418.87 L709.54,419.09 L709.98,419.31 L710.43,419.53 L710.88,419.75 L711.33,419.98 L711.77,420.20 L712.22,420.42 L712.67,420.65 L713.11,420.87 L713.56,421.10 L714.00,421.33 L714.45,421.55 L714.90,421.78 L715.34,422.01 L715.79,422.23 L716.24,422.46 L716.68,422.69 L717.13,422.91 L717.58,423.14 L718.03,423.37 L718.47,423.60 L718.92,423.83 L719.37,424.05 L719.81,424.29 L720.26,424.52 L720.70,424.75 L721.14,424.99 L721.58,425.23 L722.02,425.48 L722.45,425.72 L722.88,425.97 L723.31,426.23 L723.74,426.49 L724.16,426.75 L724.58,427.02 L725.00,427.29 L725.41,427.58 L725.82,427.86 L726.22,428.15 L726.62,428.45 L727.01,428.75 L727.40,429.06 L727.79,429.37 L728.18,429.69 L728.56,430.01 L728.94,430.34 L729.31,430.67 L729.68,431.00 L730.05,431.34 L730.42,431.68 L730.79,432.02 L731.15,432.36 L731.51,432.71 L731.87,433.06 L732.23,433.42 L732.58,433.77 L732.94,434.13 L733.29,434.48 L733.65,434.84 L734.00,435.20 L734.35,435.56 L734.70,435.92 L735.05,436.29 L735.40,436.65 L735.75,437.01 L736.10,437.37 L736.45,437.73 L736.80,438.09 L737.15,438.45 L737.50,438.81 L737.85,439.16 L738.21,439.52 L738.56,439.87 L738.92,440.22 L739.00,440.30" stroke="#00e000"/>
<path d="M192.00,127.50 L192.42,127.24 L192.85,126.97 L193.27,126.71 L193.70,126.44 L194.12,126.18 L194.54,125.91 L194.97,125.64 L195.39,125.37 L195.81,125.11 L196.23,124.84 L196.65,124.57 L197.08,124.30 L197.50,124.03 L197.92,123.76 L198.34,123.49 L198.76,123.22 L199.18,122.95 L199.60,122.68 L200.02,122.41 L200.44,122.14 L200.86,121.87 L201.28,121.60 L201.70,121.33 L202.12,121.05 L202.54,120.78 L202.96,120.51 L203.38,120.24 L203.80,119.97 L204.22,119.70 L204.64,119.43 L205.06,119.16 L205.49,118.89 L205.91,118.62 L206.33,118.35 L206.75,118.08 L207.17,117.81 L207.59,117.54 L208.01,117.28 L208.44,117.01 L208.86,116.74 L209.28,116.48 L209.71,116.21 L210.13,115.94 L210.55,115.68 L210.98,115.41 L211.40,115.15 L211.83,114.89 L212.25,114.63 L212.68,114.36 L213.11,114.10 L213.53,113.84 L213.96,113.58 L214.39,113.32 L214.81,113.06 L215.24,112.80 L215.67,112.54 L216.10,112.28 L216.52,112.03 L216.95,111.77 L217.38,111.51 L217.81,111.25 L218.24,111.00 L218.67,110.74 L219.10,110.49 L219.53,110.23 L219.96,109.97 L220.39,109.72 L220.82,109.46 L221.25,109.21 L221.68,108.95 L222.11,108.70 L222.54,108.44 L222.97,108.19 L223.40,107.93 L223.83,107.68 L224.26,107.43 L224.69,107.17 L225.12,106.92 L225.55,106.66 L225.98,106.41 L226.41,106.16 L226.85,105.90 L227.28,105.65 L227.71,105.39 L228.14,105.14 L228.57,104.88 L229.00,104.63 L229.43,104.38 L229.86,104.12 L230.29,103.87 L230.72,103.61 L231.15,103.36 L231.58,103.10 L232.01,102.84 L232.44,102.59 L232.87,102.33 L233.30,102.08 L233.73,101.82 L234.16,101.56 L234.58,101.31 L235.01,101.05 L235.44,100.79 L235.87,100.54 L236.30,100.28 L236.73,100.02 L237.16,99.76 L237.58,99.51 L238.01,99.25 L238.44,98.99 L238.87,98.73 L239.30,98.47 L239.73,98.21 L240.15,97.96 L240.58,97.70 L241.01,97.44 L241.44,97.18 L241.86,96.92 L242.29,96.66 L242.72,96.40 L243.15,96.14 L243.57,95.88 L244.00,95.62 L244.43,95.36 L244.85,95.10 L245.28,94.84 L245.71,94.58 L246.14,94.32 L246.56,94.06 L246.99,93.80 L247.42,93.54 L247.84,93.28 L248.27,93.02 L248.70,92.76 L249.12,92.49 L249.55,92.23 L249.97,91.97 L250.40,91.71 L250.83,91.45 L251.25,91.19 L251.68,90.93 L252.11,90.66 L252.53,90.40 L252.96,90.14 L253.39,89.88 L253.81,89.62 L254.24,89.36 L254.67,89.10 L255.09,88.84 L255.52,88.58 L255.95,88.32 L256.37,88.06 L256.80,87.80 L257.23,87.54 L257.66,87.28 L258.09,87.02 L258.52,86.77 L258.94,86.51 L259.37,86.25 L259.80,86.00 L260.23,85.74 L260.67,85.49 L261.10,85.24 L261.53,84.98 L261.96,84.73 L262.39,84.48 L262.83,84.23 L263.26,83.98 L263.69,83.74 L264.13,83.49 L264.56,83.24 L265.00,83.00 L265.44,82.76 L265.87,82.51 L266.31,82.27 L266.75,82.03 L267.19,81.79 L267.63,81.56 L268.07,81.32 L268.51,81.08 L268.95,80.85 L269.39,80.61 L269.83,80.38 L270.27,80.14 L270.72,79.91 L271.16,79.68 L271.60,79.45 L272.05,79.21 L272.49,78.98 L272.93,78.75 L273.38,78.52 L273.82,78.29 L274.27,78.06 L274.71,77.83 L275.15,77.61 L275.60,77.38 L276.04,77.15 L276.49,76.92 L276.93,76.69 L277.38,76.46 L277.82,76.24 L278.27,76.01 L278.71,75.78 L279.16,75.55 L279.60,75.32 L280.05,75.09 L280.49,74.86 L280.94,74.63 L281.38,74.40 L281.82,74.17 L282.27,73.94 L282.71,73.71 L283.15,73.48 L283.60,73.25 L284.04,73.01 L284.48,72.78 L284.92,72.55 L285.37,72.31 L285.81,72.08 L286.25,71.84 L286.69,71.60 L287.13,71.37 L287.57,71.13 L288.01,70.89 L288.44,70.65 L288.88,70.41 L289.32,70.17 L289.76,69.93 L290.20,69.69 L290.64,69.45 L291.07,69.20 L291.51,68.96 L291.95,68.72 L292.39,68.48 L292.82,68.23 L293.26,67.99 L293.70,67.75 L294.13,67.50 L294.57,67.26 L295.01,67.02 L295.44,66.77 L295.88,66.53 L296.32,66.29 L296.75,66.04 L297.19,65.80 L297.63,65.56 L298.06,65.31 L298.50,65.07 L298.94,64.83 L299.37,64.58 L299.81,64.34 L300.25,64.10 L300.69,63.86 L301.13,63.62 L301.56,63.38 L302.00,63.14 L302.44,62.90 L302.88,62.66 L303.32,62.42 L303.76,62.18 L304.20,61.94 L304.64,61.71 L305.08,61.47 L305.52,61.23 L305.96,61.00 L306.41,60.77 L306.85,60.53 L307.29,60.30 L307.73,60.07 L308.18,59.84 L308.62,59.61 L309.07,59.38 L309.51,59.15 L309.96,58.92 L310.40,58.69 L310.85,58.47 L311.30,58.24 L311.74,58.02 L312.19,57.79 L312.64,57.57 L313.09,57.35 L313.54,57.13 L313.99,56.91 L314.44,56.69 L314.89,56.47 L315.34,56.26 L315.79,56.04 L316.24,55.83 L316.69,55.61 L317.15,55.40 L317.60,55.19 L318.05,54.98 L318.51,54.77 L318.96,54.56 L319.42,54.35 L319.87,54.14 L320.33,53.94 L320.78,53.73 L321.24,53.53 L321.70,53.33 L322.16,53.13 L322.61,52.93 L323.07,52.73 L323.53,52.53 L323.99,52.33 L324.45,52.14 L324.91,51.95 L325.37,51.75 L325.84,51.56 L326.30,51.37 L326.76,51.18 L327.22,50.99 L327.69,50.81 L328.15,50.62 L328.62,50.43 L329.08,50.25 L329.55,50.07 L330.01,49.88 L330.48,49.70 L330.94,49.52 L331.41,49.34 L331.87,49.16 L332.34,48.97 L332.81,48.79 L333.27,48.61 L333.74,48.43 L334.21,48.25 L334.67,48.07 L335.14,47.89 L335.60,47.71 L336.07,47.53 L336.54,47.35 L337.00,47.17 L337.47,46.98 L337.93,46.80 L338.40,46.62 L338.86,46.43 L339.33,46.25 L339.79,46.06 L340.26,45.88 L340.72,45.69 L341.18,45.50 L341.65,45.31 L342.11,45.12 L342.57,44.93 L343.03,44.74 L343.49,44.55 L343.95,44.35 L344.41,44.15 L344.87,43.96 L345.33,43.76 L345.79,43.55 L346.25,43.35 L346.70,43.15 L347.16,42.95 L347.62,42.75 L348.08,42.55 L348.54,42.35 L349.00,42.15 L349.46,41.96 L349.92,41.77 L350.39,41.59 L350.85,41.40 L351.32,41.23 L351.79,41.05 L352.26,40.88 L352.73,40.71 L353.20,40.55 L353.67,40.39 L354.15,40.23 L354.62,40.07 L355.10,39.92 L355.57,39.77 L356.05,39.62 L356.53,39.47 L357.01,39.33 L357.49,39.19 L357.97,39.04 L358.45,38.90 L358.93,38.76 L359.41,38.62 L359.89,38.49 L360.38,38.35 L360.86,38.21 L361.34,38.08 L361.82,37.94 L362.30,37.81 L362.78,37.68 L363.27,37.54 L363.75,37.41 L364.23,37.28 L364.71,37.15 L365.20,37.02 L365.68,36.89 L366.16,36.76 L366.65,36.63 L367.13,36.51 L367.61,36.38 L368.10,36.26 L368.58,36.13 L369.07,36.01 L369.55,35.89 L370.04,35.77 L370.52,35.65 L371.01,35.53 L371.49,35.41 L371.98,35.29 L372.47,35.18 L372.95,35.06 L373.44,34.95 L373.93,34.84 L374.41,34.73 L374.90,34.62 L375.39,34.51 L375.88,34.40 L376.37,34.30 L376.86,34.20 L377.35,34.10 L377.84,34.00 L378.33,33.90 L378.82,33.80 L379.31,33.70 L379.80,33.61 L380.29,33.52 L380.78,33.43 L381.28,33.34 L381.77,33.26 L382.26,33.17 L382.75,33.09 L383.25,33.01 L383.74,32.93 L384.23,32.85 L384.73,32.77 L385.22,32.69 L385.72,32.62 L386.21,32.55 L386.71,32.47 L387.20,32.40 L387.70,32.33 L388.19,32.26 L388.69,32.19 L389.18,32.13 L389.68,32.06 L390.17,31.99 L390.67,31.93 L391.17,31.86 L391.66,31.80 L392.16,31.74 L392.66,31.67 L393.15,31.61 L393.65,31.55 L394.15,31.49 L394.64,31.44 L395.14,31.38 L395.64,31.33 L396.13,31.27 L396.63,31.22 L397.13,31.17 L397.63,31.13 L398.12,31.08 L398.62,31.04 L399.12,31.00 L399.62,30.96 L400.12,30.93 L400.62,30.89 L401.12,30.86 L401.61,30.83 L402.11,30.81 L402.61,30.79 L403.11,30.77 L403.61,30.75 L404.11,30.74 L404.61,30.72 L405.11,30.71 L405.61,30.70 L406.11,30.70 L406.61,30.69 L407.11,30.69 L407.61,30.69 L408.11,30.70 L408.61,30.70 L409.12,30.71 L409.62,30.72 L410.12,30.73 L410.62,30.74 L411.12,30.76 L411.62,30.78 L412.12,30.80 L412.62,30.83 L413.12,30.86 L413.61,30.90 L414.11,30.94 L414.61,30.98 L415.11,31.03 L415.60,31.09 L416.10,31.15 L416.60,31.22 L417.09,31.29 L417.58,31.36 L418.08,31.44 L418.57,31.52 L419.07,31.60 L419.56,31.68 L420.05,31.76 L420.55,31.84 L421.04,31.91 L421.54,31.99 L422.03,32.07 L422.52,32.15 L423.02,32.22 L423.51,32.30 L424.01,32.38 L424.50,32.46 L424.99,32.55 L425.48,32.63 L425.98,32.72 L426.47,32.81 L426.96,32.91 L427.45,33.01 L427.94,33.11 L428.43,33.22 L428.91,33.34 L429.40,33.45 L429.89,33.57 L430.37,33.70 L430.85,33.83 L431.34,33.97 L431.82,34.10 L432.30,34.25 L432.78,34.39 L433.25,34.55 L433.73,34.70 L434.21,34.86 L434.68,35.03 L435.15,35.19 L435.62,35.37 L436.09,35.54 L436.55,35.72 L437.02,35.91 L437.48,36.10 L437.94,36.29 L438.40,36.49 L438.86,36.69 L439.32,36.89 L439.77,37.10 L440.23,37.31 L440.68,37.52 L441.13,37.73 L441.58,37.95 L442.03,38.17 L442.48,38.39 L442.93,38.62 L443.37,38.84 L443.82,39.07 L444.26,39.31 L444.70,39.54 L445.14,39.78 L445.58,40.02 L446.02,40.26 L446.46,40.50 L446.89,40.75 L447.33,41.00 L447.76,41.25 L448.19,41.50 L448.63,41.75 L449.06,42.01 L449.48,42.27 L449.91,42.53 L450.34,42.79 L450.77,43.05 L451.19,43.32 L451.61,43.59 L452.04,43.85 L452.46,44.13 L452.88,44.40 L453.30,44.67 L453.72,44.95 L454.13,45.22 L454.55,45.50 L454.97,45.78 L455.38,46.06 L455.79,46.34 L456.21,46.63 L456.62,46.91 L457.03,47.19 L457.44,47.48 L457.85,47.77 L458.26,48.06 L458.67,48.34 L459.07,48.63 L459.48,48.92 L459.89,49.21 L460.30,49.51 L460.70,49.80 L461.11,50.09 L461.51,50.38 L461.92,50.67 L462.33,50.96 L462.73,51.26 L463.14,51.55 L463.54,51.84 L463.95,52.13 L464.36,52.42 L464.76,52.72 L465.17,53.01 L465.58,53.30 L465.98,53.59 L466.39,53.87 L466.80,54.16 L467.21,54.45 L467.62,54.74 L468.03,55.02 L468.44,55.31 L468.85,55.59 L469.26,55.87 L469.67,56.15 L470.09,56.44 L470.50,56.71 L470.92,56.99 L471.33,57.27 L471.75,57.55 L472.17,57.82 L472.59,58.10 L473.00,58.37 L473.42,58.65 L473.84,58.92 L474.26,59.19 L474.68,59.47 L475.10,59.74 L475.51,60.02 L475.93,60.29 L476.35,60.56 L476.77,60.84 L477.19,61.11 L477.60,61.39 L478.02,61.67 L478.44,61.94 L478.85,62.22 L479.27,62.50 L479.68,62.78 L480.09,63.06 L480.51,63.35 L480.92,63.63 L481.33,63.91 L481.74,64.20 L482.15,64.49 L482.56,64.77 L482.97,65.06 L483.37,65.35 L483.78,65.64 L484.19,65.93 L484.60,66.22 L485.00,66.51 L485.41,66.80 L485.82,67.09 L486.23,67.38 L486.63,67.67 L487.04,67.96 L487.45,68.25 L487.86,68.54 L488.27,68.82 L488.68,69.11 L489.09,69.40 L489.50,69.68 L489.91,69.97 L490.32,70.25 L490.73,70.53 L491.14,70.81 L491.56,71.10 L491.97,71.37 L492.39,71.65 L492.80,71.93 L493.22,72.21 L493.64,72.48 L494.06,72.75 L494.48,73.03 L494.90,73.30 L495.32,73.57 L495.74,73.84 L496.16,74.11 L496.58,74.37 L497.01,74.64 L497.43,74.91 L497.86,75.17 L498.28,75.43 L498.71,75.69 L499.13,75.96 L499.56,76.22 L499.99,76.47 L500.42,76.73 L500.85,76.99 L501.28,77.24 L501.71,77.50 L502.14,77.75 L502.57,78.01 L503.00,78.26 L503.43,78.52 L503.86,78.78 L504.29,79.03 L504.72,79.29 L505.15,79.55 L505.58,79.81 L506.01,80.07 L506.43,80.33 L506.85,80.60 L507.28,80.87 L507.70,81.13 L508.12,81.41 L508.53,81.68 L508.95,81.96 L509.36,82.24 L509.77,82.53 L510.18,82.81 L510.58,83.11 L510.99,83.40 L511.39,83.70 L511.79,84.00 L512.18,84.31 L512.57,84.62 L512.96,84.93 L513.35,85.25 L513.74,85.57 L514.12,85.89 L514.50,86.22 L514.88,86.54 L515.25,86.87 L515.63,87.21 L516.00,87.54 L516.37,87.88 L516.74,88.22 L517.11,88.56 L517.47,88.90 L517.83,89.25 L518.19,89.60 L518.55,89.95 L518.91,90.30 L519.27,90.65 L519.62,91.00 L519.97,91.36 L520.32,91.71 L520.67,92.07 L521.02,92.43 L521.36,92.79 L521.71,93.15 L522.05,93.51 L522.39,93.88 L522.73,94.24 L523.07,94.61 L523.41,94.98 L523.75,95.35 L524.08,95.72 L524.42,96.09 L524.75,96.47 L525.08,96.84 L525.42,97.22 L525.75,97.60 L526.08,97.97 L526.40,98.35 L526.73,98.74 L527.05,99.12 L527.38,99.51 L527.69,99.89 L528.01,100.28 L528.32,100.67 L528.63,101.07 L528.94,101.46 L529.24,101.86 L529.54,102.27 L529.83,102.67 L530.12,103.08 L530.40,103.49 L530.68,103.90 L530.95,104.32 L531.22,104.74 L531.48,105.17 L531.74,105.60 L531.98,106.03 L532.23,106.47 L532.47,106.91 L532.70,107.35 L532.93,107.79 L533.16,108.23 L533.39,108.68 L533.61,109.13 L533.84,109.58 L534.06,110.02 L534.28,110.47 L534.51,110.92 L534.73,111.37 L534.96,111.81 L535.19,112.26 L535.42,112.70 L535.66,113.14 L535.89,113.59 L536.13,114.03 L536.37,114.47 L536.61,114.90 L536.86,115.34 L537.10,115.78 L537.35,116.21 L537.60,116.65 L537.85,117.08 L538.10,117.51 L538.36,117.94 L538.61,118.37 L538.87,118.80 L539.13,119.23 L539.39,119.65 L539.66,120.08 L539.92,120.50 L540.19,120.92 L540.46,121.35 L540.73,121.77 L541.00,122.19 L541.27,122.61 L541.55,123.02 L541.83,123.44 L542.10,123.85 L542.38,124.27 L542.67,124.68 L542.95,125.10 L543.23,125.51 L543.52,125.92 L543.80,126.33 L544.09,126.74 L544.38,127.15 L544.67,127.55 L544.96,127.96 L545.25,128.37 L545.54,128.77 L545.83,129.18 L546.12,129.59 L546.42,129.99 L546.71,130.40 L547.00,130.80 L547.29,131.21 L547.59,131.61 L547.88,132.02 L548.17,132.43 L548.46,132.83 L548.75,133.24 L549.05,133.64 L549.34,134.05 L549.63,134.46 L549.92,134.86 L550.20,135.27 L550.49,135.68 L550.78,136.09 L551.07,136.50 L551.36,136.90 L551.65,137.31 L551.93,137.72 L552.22,138.13 L552.51,138.54 L552.80,138.94 L553.09,139.35 L553.38,139.76 L553.67,140.17 L553.96,140.57 L554.25,140.98 L554.55,141.38 L554.84,141.79 L555.13,142.19 L555.43,142.60 L555.73,143.00 L556.03,143.40 L556.33,143.80 L556.63,144.20 L556.93,144.60 L557.23,145.00 L557.54,145.40 L557.85,145.80 L558.15,146.19 L558.46,146.59 L558.77,146.99 L559.07,147.39 L559.38,147.78 L559.68,148.18 L559.99,148.58 L560.29,148.98 L560.59,149.38 L560.88,149.79 L561.18,150.19 L561.47,150.60 L561.76,151.01 L562.05,151.42 L562.33,151.83 L562.60,152.24 L562.88,152.66 L563.15,153.08 L563.41,153.50 L563.67,153.93 L563.92,154.36 L564.17,154.79 L564.41,155.23 L564.64,155.67 L564.87,156.11 L565.10,156.55 L565.32,157.00 L565.54,157.45 L565.76,157.90 L565.98,158.35 L566.19,158.80 L566.41,159.25 L566.62,159.71 L566.84,160.16 L567.05,160.61 L567.27,161.06 L567.49,161.51 L567.71,161.96 L567.94,162.41 L568.17,162.85 L568.40,163.30 L568.64,163.74 L568.88,164.18 L569.12,164.61 L569.37,165.05 L569.62,165.48 L569.87,165.91 L570.13,166.35 L570.38,166.78 L570.63,167.21 L570.88,167.64 L571.13,168.07 L571.38,168.51 L571.63,168.94 L571.87,169.38 L572.10,169.82 L572.34,170.26 L572.56,170.70 L572.79,171.15 L573.00,171.60 L573.22,172.05 L573.43,172.50 L573.63,172.95 L573.83,173.41 L574.03,173.87 L574.22,174.33 L574.41,174.79 L574.60,175.25 L574.78,175.72 L574.96,176.18 L575.14,176.65 L575.32,177.12 L575.49,177.59 L575.66,178.06 L575.83,178.53 L575.99,179.00 L576.15,179.48 L576.32,179.95 L576.48,180.43 L576.64,180.91 L576.79,181.38 L576.95,181.86 L577.10,182.34 L577.26,182.82 L577.41,183.29 L577.57,183.77 L577.72,184.25 L577.87,184.73 L578.03,185.21 L578.18,185.69 L578.33,186.17 L578.49,186.64 L578.64,187.12 L578.80,187.60 L578.96,188.07 L579.11,188.55 L579.27,189.03 L579.43,189.50 L579.59,189.98 L579.76,190.45 L579.92,190.93 L580.08,191.40 L580.25,191.87 L580.41,192.34 L580.58,192.82 L580.75,193.29 L580.92,193.76 L581.09,194.23 L581.26,194.70 L581.43,195.17 L581.60,195.64 L581.78,196.11 L581.95,196.57 L582.13,197.04 L582.30,197.51 L582.48,197.97 L582.66,198.44 L582.84,198.91 L583.02,199.37 L583.21,199.84 L583.39,200.30 L583.57,200.77 L583.76,201.23 L583.95,201.69 L584.13,202.16 L584.32,202.62 L584.51,203.08 L584.70,203.54 L584.90,204.00 L585.09,204.46 L585.28,204.93 L585.48,205.39 L585.67,205.84 L585.87,206.30 L586.07,206.76 L586.27,207.22 L586.47,207.68 L586.67,208.14 L586.87,208.60 L587.07,209.05 L587.27,209.51 L587.47,209.97 L587.67,210.43 L587.88,210.89 L588.08,211.34 L588.28,211.80 L588.48,212.26 L588.68,212.72 L588.88,213.18 L589.08,213.64 L589.28,214.09 L589.48,214.55 L589.68,215.01 L589.87,215.47 L590.07,215.93 L590.26,216.39 L590.46,216.85 L590.65,217.32 L590.84,217.78 L591.03,218.24 L591.22,218.70 L591.40,219.17 L591.59,219.63 L591.77,220.10 L591.95,220.56 L592.13,221.03 L592.30,221.50 L592.48,221.97 L592.65,222.44 L592.82,222.91 L592.99,223.38 L593.15,223.85 L593.32,224.32 L593.48,224.79 L593.64,225.27 L593.80,225.74 L593.96,226.21 L594.12,226.69 L594.27,227.16 L594.43,227.64 L594.58,228.12 L594.73,228.59 L594.88,229.07 L595.02,229.55 L595.17,230.03 L595.31,230.51 L595.46,230.99 L595.60,231.47 L595.74,231.95 L595.88,232.43 L596.02,232.91 L596.16,233.39 L596.29,233.87 L596.43,234.35 L596.56,234.84 L596.70,235.32 L596.83,235.80 L596.96,236.28 L597.09,236.77 L597.22,237.25 L597.35,237.73 L597.48,238.22 L597.61,238.70 L597.73,239.19 L597.86,239.67 L597.99,240.15 L598.11,240.64 L598.23,241.12 L598.36,241.61 L598.48,242.09 L598.61,242.58 L598.73,243.06 L598.85,243.55 L598.97,244.03 L599.09,244.52 L599.21,245.00 L599.33,245.49 L599.46,245.97 L599.58,246.46 L599.69,246.94 L599.81,247.43 L599.93,247.92 L600.05,248.40 L600.17,248.89 L600.29,249.37 L600.41,249.86 L600.53,250.34 L600.65,250.83 L600.77,251.31 L600.89,251.80 L601.00,252.29 L601.12,252.77 L601.24,253.26 L601.36,253.74 L601.48,254.23 L601.60,254.71 L601.72,255.20 L601.84,255.68 L601.96,256.17 L602.08,256.65 L602.20,257.14 L602.32,257.62 L602.44,258.11 L602.57,258.59 L602.69,259.08 L602.81,259.56 L602.94,260.05 L603.06,260.53 L603.18,261.01 L603.31,261.50 L603.43,261.98 L603.56,262.47 L603.68,262.95 L603.81,263.43 L603.94,263.92 L604.06,264.40 L604.19,264.89 L604.32,265.37 L604.44,265.85 L604.57,266.34 L604.69,266.82 L604.82,267.31 L604.94,267.79 L605.07,268.27 L605.19,268.76 L605.32,269.24 L605.44,269.73 L605.57,270.21 L605.69,270.70 L605.81,271.18 L605.93,271.67 L606.05,272.15 L606.17,272.64 L606.29,273.12 L606.41,273.61 L606.53,274.09 L606.64,274.58 L606.76,275.07 L606.87,275.55 L606.98,276.04 L607.09,276.53 L607.20,277.02 L607.31,277.51 L607.42,277.99 L607.53,278.48 L607.63,278.97 L607.73,279.46 L607.84,279.95 L607.94,280.44 L608.04,280.93 L608.14,281.42 L608.24,281.91 L608.35,282.40 L608.45,282.89 L608.55,283.38 L608.65,283.87 L608.76,284.36 L608.86,284.85 L608.97,285.34 L609.08,285.83 L609.19,286.31 L609.30,286.80 L609.41,287.29 L609.53,287.77 L609.65,288.26 L609.77,288.74 L609.89,289.23 L610.02,289.71 L610.15,290.19 L610.29,290.67 L610.42,291.15 L610.56,291.63 L610.71,292.11 L610.85,292.59 L611.00,293.07 L611.15,293.55 L611.30,294.02 L611.45,294.50 L611.61,294.97 L611.76,295.45 L611.92,295.93 L612.07,296.40 L612.23,296.88 L612.39,297.35 L612.55,297.83 L612.70,298.30 L612.86,298.78 L613.02,299.25 L613.17,299.73 L613.33,300.20 L613.48,300.68 L613.63,301.15 L613.78,301.63 L613.93,302.11 L614.08,302.59 L614.22,303.06 L614.36,303.54 L614.50,304.02 L614.63,304.50 L614.77,304.98 L614.90,305.47 L615.03,305.95 L615.15,306.43 L615.28,306.91 L615.40,307.40 L615.52,307.88 L615.64,308.37 L615.75,308.85 L615.87,309.34 L615.98,309.83 L616.09,310.31 L616.20,310.80 L616.30,311.29 L616.41,311.78 L616.51,312.27 L616.61,312.75 L616.71,313.24 L616.81,313.73 L616.91,314.22 L617.00,314.72 L617.09,315.21 L617.19,315.70 L617.28,316.19 L617.37,316.68 L617.45,317.17 L617.54,317.67 L617.63,318.16 L617.71,318.65 L617.79,319.15 L617.88,319.64 L617.96,320.14 L618.04,320.63 L618.12,321.12 L618.19,321.62 L618.27,322.11 L618.35,322.61 L618.43,323.10 L618.50,323.60 L618.58,324.10 L618.65,324.59 L618.72,325.09 L618.80,325.58 L618.87,326.08 L618.94,326.58 L619.01,327.07 L619.09,327.57 L619.16,328.07 L619.23,328.56 L619.30,329.06 L619.37,329.56 L619.44,330.05 L619.51,330.55 L619.58,331.05 L619.65,331.54 L619.72,332.04 L619.80,332.54 L619.87,333.03 L619.94,333.53 L620.01,334.02 L620.08,334.52 L620.15,335.02 L620.23,335.51 L620.30,336.01 L620.38,336.50 L620.45,337.00 L620.52,337.50 L620.60,337.99 L620.68,338.49 L620.75,338.98 L620.83,339.48 L620.91,339.97 L620.98,340.47 L621.06,340.96 L621.14,341.45 L621.22,341.95 L621.30,342.44 L621.38,342.94 L621.46,343.43 L621.54,343.92 L621.62,344.42 L621.70,344.91 L621.78,345.41 L621.87,345.90 L621.95,346.39 L622.03,346.89 L622.11,347.38 L622.20,347.87 L622.28,348.36 L622.37,348.86 L622.45,349.35 L622.53,349.84 L622.62,350.34 L622.70,350.83 L622.79,351.32 L622.87,351.81 L622.96,352.31 L623.05,352.80 L623.13,353.29 L623.22,353.78 L623.31,354.28 L623.39,354.77 L623.48,355.26 L623.57,355.75 L623.65,356.24 L623.74,356.74 L623.83,357.23 L623.92,357.72 L624.01,358.21 L624.09,358.70 L624.18,359.20 L624.27,359.69 L624.36,360.18 L624.45,360.67 L624.54,361.16 L624.62,361.65 L624.71,362.15 L624.80,362.64 L624.89,363.13 L624.98,363.62 L625.07,364.11 L625.16,364.60 L625.25,365.10 L625.33,365.59 L625.42,366.08 L625.51,366.57 L625.60,367.06 L625.69,367.55 L625.78,368.05 L625.87,368.54 L625.96,369.03 L626.04,369.52 L626.13,370.01 L626.22,370.50 L626.31,371.00 L626.40,371.49 L626.49,371.98 L626.57,372.47 L626.66,372.96 L626.75,373.46 L626.84,373.95 L626.92,374.44 L627.01,374.93 L627.10,375.42 L627.19,375.92 L627.27,376.41 L627.36,376.90 L627.45,377.39 L627.53,377.89 L627.62,378.38 L627.71,378.87 L627.79,379.36 L627.88,379.86 L627.96,380.35 L628.05,380.84 L628.14,381.33 L628.22,381.83 L628.31,382.32 L628.39,382.81 L628.48,383.30 L628.56,383.80 L628.65,384.29 L628.73,384.78 L628.82,385.28 L628.90,385.77 L628.98,386.26 L629.07,386.75 L629.15,387.25 L629.24,387.74 L629.32,388.23 L629.40,388.73 L629.49,389.22 L629.57,389.71 L629.65,390.21 L629.73,390.70 L629.82,391.19 L629.90,391.69 L629.98,392.18 L630.06,392.67 L630.14,393.17 L630.23,393.66 L630.31,394.15 L630.39,394.65 L630.47,395.14 L630.55,395.63 L630.63,396.13 L630.71,396.62 L630.79,397.11 L630.87,397.61 L630.95,398.10 L631.03,398.59 L631.11,399.09 L631.19,399.58 L631.27,400.08 L631.35,400.57 L631.43,401.06 L631.50,401.56 L631.58,402.05 L631.66,402.55 L631.74,403.04 L631.82,403.53 L631.89,404.03 L631.97,404.52 L632.05,405.02 L632.12,405.51 L632.20,406.00 L632.28,406.50 L632.35,406.99 L632.43,407.49 L632.50,407.98 L632.58,408.48 L632.65,408.97 L632.73,409.46 L632.80,409.96 L632.88,410.45 L632.95,410.95 L633.03,411.44 L633.10,411.94 L633.17,412.43 L633.25,412.93 L633.32,413.42 L633.40,413.92 L633.47,414.41 L633.54,414.90 L633.61,415.40 L633.69,415.89 L633.76,416.39 L633.83,416.88 L633.91,417.38 L633.98,417.87 L634.05,418.37 L634.12,418.86 L634.19,419.36 L634.27,419.85 L634.34,420.35 L634.41,420.84 L634.48,421.34 L634.55,421.83 L634.63,422.33 L634.70,422.82 L634.77,423.32 L634.84,423.81 L634.91,424.30 L634.98,424.80 L635.06,425.29 L635.13,425.79 L635.20,426.28 L635.27,426.78 L635.34,427.27 L635.42,427.77 L635.49,428.26 L635.56,428.76 L635.63,429.25 L635.70,429.75 L635.78,430.24 L635.85,430.74 L635.92,431.23 L635.99,431.73 L636.07,432.22 L636.14,432.72 L636.21,433.21 L636.28,433.70 L636.36,434.20 L636.43,434.69 L636.50,435.19 L636.58,435.68 L636.65,436.18 L636.73,436.67 L636.80,437.17 L636.87,437.66 L636.95,438.16 L637.02,438.65 L637.10,439.14 L637.17,439.64 L637.25,440.13 L637.32,440.63 L637.40,441.12 L637.47,441.62 L637.55,442.11 L637.63,442.60 L637.70,443.10 L637.78,443.59 L637.86,444.09 L637.93,444.58 L638.00,445.00" stroke="#00f" stroke-dasharray="11.65 6.85" stroke-dashoffset="6.6"/>
</g>
<g fill="none" stroke="#4c4c4c" stroke-width="0.9">
<path d="M194.45,18.00 H824.00 V438.45 H194.45 Z"/>
<path d="M246.99,438.45 L246.99,435.85 M246.99,18.00 L246.99,20.60 M277.75,438.45 L277.75,435.85 M277.75,18.00 L277.75,20.60 M299.58,438.45 L299.58,435.85 M299.58,18.00 L299.58,20.60 M316.51,438.45 L316.51,435.85 M316.51,18.00 L316.51,20.60 M330.34,438.45 L330.34,435.85 M330.34,18.00 L330.34,20.60 M342.04,438.45 L342.04,435.85 M342.04,18.00 L342.04,20.60 M352.17,438.45 L352.17,435.85 M352.17,18.00 L352.17,20.60 M361.11,438.45 L361.11,435.85 M361.11,18.00 L361.11,20.60 M369.10,438.45 L369.10,430.65 M369.10,18.00 L369.10,25.80 M421.69,438.45 L421.69,435.85 M421.69,18.00 L421.69,20.60 M452.45,438.45 L452.45,435.85 M452.45,18.00 L452.45,20.60 M474.28,438.45 L474.28,435.85 M474.28,18.00 L474.28,20.60 M491.21,438.45 L491.21,435.85 M491.21,18.00 L491.21,20.60 M505.04,438.45 L505.04,435.85 M505.04,18.00 L505.04,20.60 M516.74,438.45 L516.74,435.85 M516.74,18.00 L516.74,20.60 M526.87,438.45 L526.87,435.85 M526.87,18.00 L526.87,20.60 M535.81,438.45 L535.81,435.85 M535.81,18.00 L535.81,20.60 M543.80,438.45 L543.80,430.65 M543.80,18.00 L543.80,25.80 M596.39,438.45 L596.39,435.85 M596.39,18.00 L596.39,20.60 M627.15,438.45 L627.15,435.85 M627.15,18.00 L627.15,20.60 M648.98,438.45 L648.98,435.85 M648.98,18.00 L648.98,20.60 M665.91,438.45 L665.91,435.85 M665.91,18.00 L665.91,20.60 M679.74,438.45 L679.74,435.85 M679.74,18.00 L679.74,20.60 M691.44,438.45 L691.44,435.85 M691.44,18.00 L691.44,20.60 M701.57,438.45 L701.57,435.85 M701.57,18.00 L701.57,20.60 M710.51,438.45 L710.51,435.85 M710.51,18.00 L710.51,20.60 M718.50,438.45 L718.50,430.65 M718.50,18.00 L718.50,25.80 M771.09,438.45 L771.09,435.85 M771.09,18.00 L771.09,20.60 M801.85,438.45 L801.85,435.85 M801.85,18.00 L801.85,20.60 M823.68,438.45 L823.68,435.85 M823.68,18.00 L823.68,20.60 M194.45,438.45 L202.25,438.45 M824.00,438.45 L816.20,438.45 M194.45,402.30 L197.05,402.30 M824.00,402.30 L821.40,402.30 M194.45,381.15 L197.05,381.15 M824.00,381.15 L821.40,381.15 M194.45,366.14 L197.05,366.14 M824.00,366.14 L821.40,366.14 M194.45,354.50 L202.25,354.50 M824.00,354.50 L816.20,354.50 M194.45,344.99 L197.05,344.99 M824.00,344.99 L821.40,344.99 M194.45,336.95 L197.05,336.95 M824.00,336.95 L821.40,336.95 M194.45,329.99 L197.05,329.99 M824.00,329.99 L821.40,329.99 M194.45,323.85 L197.05,323.85 M824.00,323.85 L821.40,323.85 M194.45,318.35 L202.25,318.35 M824.00,318.35 L816.20,318.35 M194.45,282.20 L197.05,282.20 M824.00,282.20 L821.40,282.20 M194.45,261.05 L197.05,261.05 M824.00,261.05 L821.40,261.05 M194.45,246.04 L197.05,246.04 M824.00,246.04 L821.40,246.04 M194.45,234.40 L202.25,234.40 M824.00,234.40 L816.20,234.40 M194.45,224.89 L197.05,224.89 M824.00,224.89 L821.40,224.89 M194.45,216.85 L197.05,216.85 M824.00,216.85 L821.40,216.85 M194.45,209.89 L197.05,209.89 M824.00,209.89 L821.40,209.89 M194.45,203.75 L197.05,203.75 M824.00,203.75 L821.40,203.75 M194.45,198.25 L202.25,198.25 M824.00,198.25 L816.20,198.25 M194.45,162.10 L197.05,162.10 M824.00,162.10 L821.40,162.10 M194.45,140.95 L197.05,140.95 M824.00,140.95 L821.40,140.95 M194.45,125.94 L197.05,125.94 M824.00,125.94 L821.40,125.94 M194.45,114.30 L202.25,114.30 M824.00,114.30 L816.20,114.30 M194.45,104.79 L197.05,104.79 M824.00,104.79 L821.40,104.79 M194.45,96.75 L197.05,96.75 M824.00,96.75 L821.40,96.75 M194.45,89.79 L197.05,89.79 M824.00,89.79 L821.40,89.79 M194.45,83.65 L197.05,83.65 M824.00,83.65 L821.40,83.65 M194.45,78.15 L202.25,78.15 M824.00,78.15 L816.20,78.15 M194.45,42.00 L197.05,42.00 M824.00,42.00 L821.40,42.00 M194.45,20.85 L197.05,20.85 M824.00,20.85 L821.40,20.85"/>
</g>
<g fill="none"><path d="M206.9,232.6 H262.1" stroke="#000" stroke-width="2.4"/><path d="M206.9,270.6 H262.1" stroke="#f00" stroke-width="2.4"/><circle cx="208.10" cy="308.80" r="1.7" fill="#ff8a12"/><circle cx="217.32" cy="308.80" r="1.7" fill="#ff8a12"/><circle cx="226.54" cy="308.80" r="1.7" fill="#ff8a12"/><circle cx="235.76" cy="308.80" r="1.7" fill="#ff8a12"/><circle cx="244.98" cy="308.80" r="1.7" fill="#ff8a12"/><circle cx="254.20" cy="308.80" r="1.7" fill="#ff8a12"/><path d="M206.9,353.3 H262.1" stroke="#00e000" stroke-width="2.4"/><path d="M206.7,397.8 H256.0" stroke="#00f" stroke-width="2.4" stroke-dasharray="11.7 6.9"/></g>
<g fill="#000"><text x="187.60" y="448.85" font-size="41.30" text-anchor="end">10</text><text x="187.60" y="364.90" font-size="41.30" text-anchor="end">50</text><text x="187.60" y="328.75" font-size="41.30" text-anchor="end">100</text><text x="187.60" y="244.80" font-size="41.30" text-anchor="end">500</text><text x="187.60" y="208.65" font-size="41.30" text-anchor="end">1000</text><text x="187.60" y="124.70" font-size="41.30" text-anchor="end">5000</text><text x="69.00" y="94.45" font-size="41.30" text-anchor="start">1</text><text x="94.10" y="101.25" font-size="55.00" text-anchor="start" stroke="#fff" stroke-width="0.9">×</text><text x="129.30" y="94.45" font-size="41.30" text-anchor="start">1</text><text x="148.50" y="94.45" font-size="41.30" text-anchor="start">0</text><text x="171.60" y="77.25" font-size="28.70" text-anchor="start">4</text><text x="194.10" y="476.60" font-size="41.30" text-anchor="middle">0.001</text><text x="368.80" y="476.60" font-size="41.30" text-anchor="middle">0.01</text><text x="543.50" y="476.60" font-size="41.30" text-anchor="middle">0.1</text><text x="718.20" y="476.60" font-size="41.30" text-anchor="middle">1</text><text transform="translate(415.70,534.30) scale(1.000,1.000)" font-size="41.30" font-style="italic">k</text><text transform="translate(466.30,535.90) scale(1.000,1.040)" font-size="41.30">[</text><text transform="translate(480.30,534.30) scale(1.000,1.000)" font-size="41.30" font-style="italic">h</text><text transform="translate(499.60,540.40) scale(1.100,1.220)" font-size="41.30">/</text><text transform="translate(513.30,534.30) scale(0.935,1.000)" font-size="41.30">M</text><text transform="translate(548.00,534.30) scale(1.000,1.000)" font-size="41.30">p</text><text transform="translate(567.10,534.30) scale(1.000,1.000)" font-size="41.30">c</text><text transform="translate(587.60,535.90) scale(1.000,1.040)" font-size="41.30">]</text><g transform="translate(43.0,345.1) rotate(-90)"><text transform="translate(-1.50,0.00) scale(1.000,1.000)" font-size="41.30" font-style="italic">P</text><text transform="translate(55.30,1.60) scale(1.000,1.040)" font-size="41.30">[</text><text transform="translate(68.30,-1.60) scale(1.000,0.954)" font-size="41.30">(</text><text transform="translate(84.40,0.00) scale(0.935,1.000)" font-size="41.30">M</text><text transform="translate(119.30,0.00) scale(1.000,1.000)" font-size="41.30">p</text><text transform="translate(141.30,0.00) scale(1.000,1.000)" font-size="41.30">c</text><text transform="translate(157.60,6.10) scale(1.100,1.220)" font-size="41.30">/</text><text transform="translate(172.40,0.00) scale(1.000,1.000)" font-size="41.30" font-style="italic">h</text><text transform="translate(192.30,-1.60) scale(1.000,0.954)" font-size="41.30">)</text><text transform="translate(204.50,-19.00) scale(1.000,1.000)" font-size="30.00">3</text><text transform="translate(221.00,1.60) scale(1.000,1.040)" font-size="41.30">]</text></g><text transform="translate(270.00,241.20) scale(1.013,1.000)" font-size="28.90">ΛCDM</text><text transform="translate(367.00,241.20) scale(1.015,1.000)" font-size="28.90">linear</text><text transform="translate(270.00,279.20) scale(1.013,1.000)" font-size="28.90">ΛCDM</text><text transform="translate(367.00,279.20) scale(1.015,1.000)" font-size="28.90">HM</text><text transform="translate(270.00,317.40) scale(1.013,1.000)" font-size="28.90">ΛCDM</text><text transform="translate(367.00,317.40) scale(1.015,1.000)" font-size="28.90">HF</text><text x="270.00" y="361.50" font-size="28.90" text-anchor="start" font-style="italic">c</text><text x="282.30" y="352.10" font-size="20.20" text-anchor="start">2</text><text x="282.80" y="368.70" font-size="20.20" text-anchor="start">s</text><text transform="translate(294.30,361.50) scale(1.180,1.000)" font-size="28.90">=</text><text x="314.00" y="361.50" font-size="28.90" text-anchor="start">3</text><text x="328.80" y="361.50" font-size="28.90" text-anchor="start">×</text><text x="346.00" y="361.50" font-size="28.90" text-anchor="start">10</text><text x="375.30" y="348.90" font-size="20.20" text-anchor="start">−6</text><text x="399.80" y="361.50" font-size="28.90" text-anchor="start">,</text><text x="407.50" y="361.50" font-size="28.90" text-anchor="start" font-style="italic">w</text><text transform="translate(427.70,361.50) scale(1.180,1.000)" font-size="28.90">=</text><text x="447.30" y="361.50" font-size="28.90" text-anchor="start" font-style="italic">c</text><text x="460.00" y="352.10" font-size="20.20" text-anchor="start">2</text><text transform="translate(460.00,370.30) scale(1.050,1.000)" font-size="20.20">vis</text><text transform="translate(486.80,361.50) scale(1.180,1.000)" font-size="28.90">=</text><text x="505.70" y="361.50" font-size="28.90" text-anchor="start">0</text><text x="536.10" y="361.50" font-size="28.90" text-anchor="start">HM</text><text x="270.00" y="406.00" font-size="28.90" text-anchor="start" font-style="italic">c</text><text x="282.30" y="396.60" font-size="20.20" text-anchor="start">2</text><text x="282.80" y="413.20" font-size="20.20" text-anchor="start">s</text><text transform="translate(294.30,406.00) scale(1.180,1.000)" font-size="28.90">=</text><text x="314.00" y="406.00" font-size="28.90" text-anchor="start">3</text><text x="328.80" y="406.00" font-size="28.90" text-anchor="start">×</text><text x="346.00" y="406.00" font-size="28.90" text-anchor="start">10</text><text x="375.30" y="393.40" font-size="20.20" text-anchor="start">−6</text><text x="399.80" y="406.00" font-size="28.90" text-anchor="start">,</text><text x="407.50" y="406.00" font-size="28.90" text-anchor="start" font-style="italic">w</text><text transform="translate(427.70,406.00) scale(1.180,1.000)" font-size="28.90">=</text><text x="447.30" y="406.00" font-size="28.90" text-anchor="start" font-style="italic">c</text><text x="460.00" y="396.60" font-size="20.20" text-anchor="start">2</text><text transform="translate(460.00,414.80) scale(1.050,1.000)" font-size="20.20">vis</text><text transform="translate(486.80,406.00) scale(1.180,1.000)" font-size="28.90">=</text><text x="505.70" y="406.00" font-size="28.90" text-anchor="start">0</text><text x="536.80" y="406.00" font-size="28.90" text-anchor="start">linear</text></g>
</svg>
</body></html>
